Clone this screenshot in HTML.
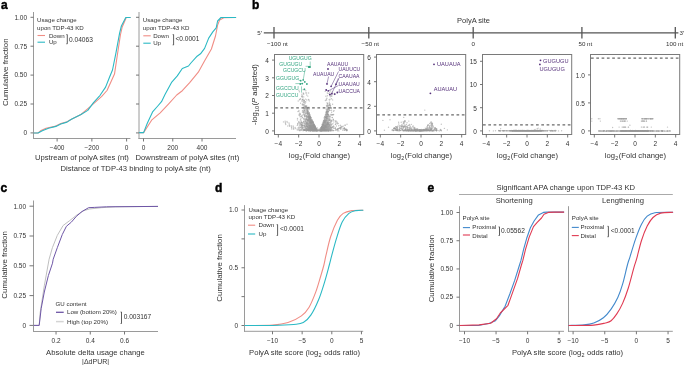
<!DOCTYPE html><html><head><meta charset="utf-8"><style>html,body{margin:0;padding:0;background:#fff;width:685px;height:365px;overflow:hidden}svg{display:block;transform:translateZ(0)}text{font-family:"Liberation Sans",sans-serif}</style></head><body>
<svg width="685" height="365" viewBox="0 0 685 365">
<text x="1.00" y="9.00" font-size="12" text-anchor="start" fill="#000" font-weight="bold" stroke="#000" stroke-width="0.45">a</text>
<text x="252.00" y="9.00" font-size="12" text-anchor="start" fill="#000" font-weight="bold" stroke="#000" stroke-width="0.45">b</text>
<text x="0.50" y="191.50" font-size="12" text-anchor="start" fill="#000" font-weight="bold" stroke="#000" stroke-width="0.45">c</text>
<text x="215.00" y="191.80" font-size="12" text-anchor="start" fill="#000" font-weight="bold" stroke="#000" stroke-width="0.45">d</text>
<text x="427.50" y="191.80" font-size="12" text-anchor="start" fill="#000" font-weight="bold" stroke="#000" stroke-width="0.45">e</text>
<line x1="33.50" y1="12.00" x2="33.50" y2="139.00" stroke="#9a9a9a" stroke-width="1" />
<line x1="30.50" y1="17.30" x2="33.50" y2="17.30" stroke="#666" stroke-width="0.9" />
<text x="27.10" y="19.60" font-size="6.5" text-anchor="end" fill="#333" font-weight="normal" >1.00</text>
<line x1="30.50" y1="46.20" x2="33.50" y2="46.20" stroke="#666" stroke-width="0.9" />
<text x="27.10" y="48.50" font-size="6.5" text-anchor="end" fill="#333" font-weight="normal" >0.75</text>
<line x1="30.50" y1="75.10" x2="33.50" y2="75.10" stroke="#666" stroke-width="0.9" />
<text x="27.10" y="77.40" font-size="6.5" text-anchor="end" fill="#333" font-weight="normal" >0.50</text>
<line x1="30.50" y1="104.00" x2="33.50" y2="104.00" stroke="#666" stroke-width="0.9" />
<text x="27.10" y="106.30" font-size="6.5" text-anchor="end" fill="#333" font-weight="normal" >0.25</text>
<line x1="30.50" y1="132.90" x2="33.50" y2="132.90" stroke="#666" stroke-width="0.9" />
<text x="27.10" y="135.20" font-size="6.5" text-anchor="end" fill="#333" font-weight="normal" >0</text>
<line x1="33.00" y1="138.50" x2="130.40" y2="138.50" stroke="#9a9a9a" stroke-width="1" />
<line x1="57.12" y1="138.50" x2="57.12" y2="141.50" stroke="#666" stroke-width="0.9" />
<text x="57.12" y="149.50" font-size="6.5" text-anchor="middle" fill="#333" font-weight="normal" >−400</text>
<line x1="91.86" y1="138.50" x2="91.86" y2="141.50" stroke="#666" stroke-width="0.9" />
<text x="91.86" y="149.50" font-size="6.5" text-anchor="middle" fill="#333" font-weight="normal" >−200</text>
<line x1="126.60" y1="138.50" x2="126.60" y2="141.50" stroke="#666" stroke-width="0.9" />
<text x="126.60" y="149.50" font-size="6.5" text-anchor="middle" fill="#333" font-weight="normal" >0</text>
<polyline points="33.30,133.00 38.00,133.00 40.50,130.80 46.00,128.30 54.70,126.40 60.80,123.60 67.00,121.80 71.40,119.30 81.00,114.50 90.50,106.30 101.50,96.70 107.00,90.50 111.10,81.60 114.50,74.10 117.20,56.00 120.40,35.00 122.20,27.00 126.30,17.50 130.60,17.50" fill="none" stroke="#f08d85" stroke-width="1.1" stroke-linejoin="round" />
<polyline points="33.30,133.00 38.00,133.00 42.30,130.80 48.50,128.30 55.90,126.40 60.80,124.00 67.00,122.10 71.40,119.30 81.00,114.50 87.80,110.40 93.30,102.90 100.10,95.30 105.60,87.10 109.70,76.80 112.50,70.00 116.00,52.70 119.60,33.10 121.40,26.00 125.80,17.50 130.60,17.50" fill="none" stroke="#2bb9c4" stroke-width="1.1" stroke-linejoin="round" />
<text x="37.10" y="22.30" font-size="6.15" text-anchor="start" fill="#333" font-weight="normal" >Usage change</text>
<text x="37.10" y="29.50" font-size="6.15" text-anchor="start" fill="#333" font-weight="normal" >upon TDP-43 KD</text>
<line x1="37.50" y1="35.50" x2="45.00" y2="35.50" stroke="#f08d85" stroke-width="1.1" />
<text x="48.90" y="37.60" font-size="6.15" text-anchor="start" fill="#333" font-weight="normal" >Down</text>
<line x1="37.50" y1="42.20" x2="45.00" y2="42.20" stroke="#2bb9c4" stroke-width="1.1" />
<text x="48.90" y="44.40" font-size="6.15" text-anchor="start" fill="#333" font-weight="normal" >Up</text>
<path d="M66.4,34.6 H67.3 V43.8 H66.4" fill="none" stroke="#333" stroke-width="0.8"/>
<text x="69.00" y="41.60" font-size="6.6" text-anchor="start" fill="#333" font-weight="normal" >0.04063</text>
<line x1="139.00" y1="12.00" x2="139.00" y2="139.00" stroke="#9a9a9a" stroke-width="1" />
<line x1="136.00" y1="17.30" x2="139.00" y2="17.30" stroke="#666" stroke-width="0.9" />
<line x1="136.00" y1="46.20" x2="139.00" y2="46.20" stroke="#666" stroke-width="0.9" />
<line x1="136.00" y1="75.10" x2="139.00" y2="75.10" stroke="#666" stroke-width="0.9" />
<line x1="136.00" y1="104.00" x2="139.00" y2="104.00" stroke="#666" stroke-width="0.9" />
<line x1="136.00" y1="132.90" x2="139.00" y2="132.90" stroke="#666" stroke-width="0.9" />
<line x1="138.50" y1="138.50" x2="236.00" y2="138.50" stroke="#9a9a9a" stroke-width="1" />
<line x1="143.50" y1="138.50" x2="143.50" y2="141.50" stroke="#666" stroke-width="0.9" />
<text x="143.50" y="149.50" font-size="6.5" text-anchor="middle" fill="#333" font-weight="normal" >0</text>
<line x1="172.76" y1="138.50" x2="172.76" y2="141.50" stroke="#666" stroke-width="0.9" />
<text x="172.76" y="149.50" font-size="6.5" text-anchor="middle" fill="#333" font-weight="normal" >200</text>
<line x1="202.02" y1="138.50" x2="202.02" y2="141.50" stroke="#666" stroke-width="0.9" />
<text x="202.02" y="149.50" font-size="6.5" text-anchor="middle" fill="#333" font-weight="normal" >400</text>
<polyline points="139.10,132.60 143.60,132.60 151.60,120.20 160.20,112.80 168.90,103.60 176.70,95.00 182.30,90.70 189.70,82.70 198.30,72.20 204.50,61.10 211.40,49.00 215.50,36.00 217.60,25.10 219.70,19.90 223.80,17.80 236.10,17.50" fill="none" stroke="#f08d85" stroke-width="1.1" stroke-linejoin="round" />
<polyline points="139.10,132.60 143.60,132.60 147.30,123.30 152.80,111.60 157.80,106.00 161.50,101.70 165.00,94.40 171.80,82.10 177.30,75.90 182.30,68.50 188.50,66.00 190.90,63.00 197.10,56.20 200.50,53.80 204.60,48.40 208.70,38.10 212.80,31.90 216.20,27.80 217.60,21.00 221.00,17.50 236.10,17.50" fill="none" stroke="#2bb9c4" stroke-width="1.1" stroke-linejoin="round" />
<text x="142.80" y="22.30" font-size="6.15" text-anchor="start" fill="#333" font-weight="normal" >Usage change</text>
<text x="142.80" y="29.50" font-size="6.15" text-anchor="start" fill="#333" font-weight="normal" >upon TDP-43 KD</text>
<line x1="143.30" y1="35.80" x2="150.70" y2="35.80" stroke="#f08d85" stroke-width="1.1" />
<text x="153.20" y="37.80" font-size="6.15" text-anchor="start" fill="#333" font-weight="normal" >Down</text>
<line x1="143.30" y1="43.20" x2="150.70" y2="43.20" stroke="#2bb9c4" stroke-width="1.1" />
<text x="153.20" y="45.40" font-size="6.15" text-anchor="start" fill="#333" font-weight="normal" >Up</text>
<path d="M172.7,34.6 H173.6 V44.9 H172.7" fill="none" stroke="#333" stroke-width="0.8"/>
<text x="175.40" y="41.40" font-size="6.6" text-anchor="start" fill="#333" font-weight="normal" >&lt;0.0001</text>
<text x="35.00" y="160.20" font-size="7.65" text-anchor="start" fill="#333" font-weight="normal" >Upstream of polyA sites (nt)</text>
<text x="135.60" y="160.20" font-size="7.65" text-anchor="start" fill="#333" font-weight="normal" >Downstream of polyA sites (nt)</text>
<text x="60.50" y="170.80" font-size="7.65" text-anchor="start" fill="#333" font-weight="normal" >Distance of TDP-43 binding to polyA site (nt)</text>
<text x="0.00" y="0.00" font-size="7.9" text-anchor="middle" fill="#333" font-weight="normal" transform="translate(8.0,72.2) rotate(-90)">Cumulative fraction</text>
<line x1="263.80" y1="32.90" x2="678.40" y2="32.90" stroke="#555" stroke-width="1.4" />
<line x1="274.00" y1="27.10" x2="274.00" y2="38.60" stroke="#555" stroke-width="1.3" />
<line x1="368.80" y1="27.10" x2="368.80" y2="38.60" stroke="#555" stroke-width="1.3" />
<line x1="473.20" y1="27.10" x2="473.20" y2="38.60" stroke="#555" stroke-width="1.3" />
<line x1="581.90" y1="27.10" x2="581.90" y2="38.60" stroke="#555" stroke-width="1.3" />
<line x1="675.30" y1="27.10" x2="675.30" y2="38.60" stroke="#555" stroke-width="1.3" />
<text x="257.30" y="34.60" font-size="6.2" text-anchor="start" fill="#333" font-weight="normal" >5′</text>
<text x="679.60" y="34.60" font-size="6.2" text-anchor="start" fill="#333" font-weight="normal" >3′</text>
<text x="267.00" y="46.20" font-size="6.2" text-anchor="start" fill="#333" font-weight="normal" >−100 nt</text>
<text x="361.60" y="46.20" font-size="6.2" text-anchor="start" fill="#333" font-weight="normal" >−50 nt</text>
<text x="473.20" y="46.20" font-size="6.2" text-anchor="middle" fill="#333" font-weight="normal" >0</text>
<text x="578.50" y="46.20" font-size="6.2" text-anchor="start" fill="#333" font-weight="normal" >50 nt</text>
<text x="666.00" y="46.20" font-size="6.2" text-anchor="start" fill="#333" font-weight="normal" >100 nt</text>
<text x="457.10" y="23.00" font-size="7.5" text-anchor="start" fill="#333" font-weight="normal" >PolyA site</text>
<rect x="274.50" y="54.5" width="89.2" height="80.00" fill="none" stroke="#7a7a7a" stroke-width="1"/>
<line x1="278.32" y1="134.50" x2="278.32" y2="137.50" stroke="#666" stroke-width="0.9" />
<text x="278.32" y="145.80" font-size="6.5" text-anchor="middle" fill="#333" font-weight="normal" >−4</text>
<line x1="298.66" y1="134.50" x2="298.66" y2="137.50" stroke="#666" stroke-width="0.9" />
<text x="298.66" y="145.80" font-size="6.5" text-anchor="middle" fill="#333" font-weight="normal" >−2</text>
<line x1="319.00" y1="134.50" x2="319.00" y2="137.50" stroke="#666" stroke-width="0.9" />
<text x="319.00" y="145.80" font-size="6.5" text-anchor="middle" fill="#333" font-weight="normal" >0</text>
<line x1="339.34" y1="134.50" x2="339.34" y2="137.50" stroke="#666" stroke-width="0.9" />
<text x="339.34" y="145.80" font-size="6.5" text-anchor="middle" fill="#333" font-weight="normal" >2</text>
<line x1="359.68" y1="134.50" x2="359.68" y2="137.50" stroke="#666" stroke-width="0.9" />
<text x="359.68" y="145.80" font-size="6.5" text-anchor="middle" fill="#333" font-weight="normal" >4</text>
<line x1="272.00" y1="60.10" x2="274.50" y2="60.10" stroke="#666" stroke-width="0.9" />
<text x="268.90" y="63.00" font-size="6.5" text-anchor="end" fill="#333" font-weight="normal" >4</text>
<line x1="272.00" y1="77.80" x2="274.50" y2="77.80" stroke="#666" stroke-width="0.9" />
<text x="268.90" y="80.70" font-size="6.5" text-anchor="end" fill="#333" font-weight="normal" >3</text>
<line x1="272.00" y1="95.50" x2="274.50" y2="95.50" stroke="#666" stroke-width="0.9" />
<text x="268.90" y="98.40" font-size="6.5" text-anchor="end" fill="#333" font-weight="normal" >2</text>
<line x1="272.00" y1="113.20" x2="274.50" y2="113.20" stroke="#666" stroke-width="0.9" />
<text x="268.90" y="116.10" font-size="6.5" text-anchor="end" fill="#333" font-weight="normal" >1</text>
<line x1="272.00" y1="130.90" x2="274.50" y2="130.90" stroke="#666" stroke-width="0.9" />
<text x="268.90" y="133.80" font-size="6.5" text-anchor="end" fill="#333" font-weight="normal" >0</text>
<path d="M310.7,127.6h0.01M313.8,126.3h0.01M313.0,129.6h0.01M309.0,121.4h0.01M309.1,120.0h0.01M307.4,113.6h0.01M303.7,122.2h0.01M317.0,129.7h0.01M304.4,127.2h0.01M302.1,127.1h0.01M313.2,126.8h0.01M316.3,130.0h0.01M312.4,125.4h0.01M299.9,130.7h0.01M309.7,128.8h0.01M315.6,128.2h0.01M307.0,129.0h0.01M310.4,125.5h0.01M307.4,129.5h0.01M301.4,122.2h0.01M306.5,126.4h0.01M314.0,130.7h0.01M307.0,118.1h0.01M305.9,125.0h0.01M306.3,107.0h0.01M311.0,120.4h0.01M309.8,126.2h0.01M299.6,124.9h0.01M307.5,110.7h0.01M304.2,107.7h0.01M312.4,129.7h0.01M316.1,129.3h0.01M304.1,126.2h0.01M312.7,127.3h0.01M314.5,128.6h0.01M309.8,127.2h0.01M316.3,130.7h0.01M315.5,129.6h0.01M308.0,115.9h0.01M305.2,115.9h0.01M317.1,130.3h0.01M312.1,121.3h0.01M311.8,128.3h0.01M304.5,108.0h0.01M311.5,124.7h0.01M310.1,125.3h0.01M309.2,120.5h0.01M308.4,115.9h0.01M304.8,110.5h0.01M311.3,129.8h0.01M313.3,129.4h0.01M317.0,130.1h0.01M313.0,128.2h0.01M309.7,115.2h0.01M307.2,114.8h0.01M304.9,124.2h0.01M309.0,130.3h0.01M314.3,125.5h0.01M307.8,109.3h0.01M314.1,127.8h0.01M305.2,106.2h0.01M306.8,108.6h0.01M307.0,128.2h0.01M312.1,127.0h0.01M307.9,109.9h0.01M317.5,130.9h0.01M301.8,126.2h0.01M308.9,118.2h0.01M313.8,128.3h0.01M306.0,121.8h0.01M311.4,123.7h0.01M309.4,115.6h0.01M313.7,128.4h0.01M312.9,122.1h0.01M307.4,126.7h0.01M305.3,127.2h0.01M307.3,113.1h0.01M302.3,128.1h0.01M311.8,130.4h0.01M315.5,129.2h0.01M316.0,130.6h0.01M307.1,126.1h0.01M309.8,126.2h0.01M312.4,127.0h0.01M309.9,118.0h0.01M316.0,129.0h0.01M308.2,129.9h0.01M310.0,117.6h0.01M306.5,122.4h0.01M315.8,129.7h0.01M310.7,122.8h0.01M312.8,130.8h0.01M315.1,126.6h0.01M309.3,116.9h0.01M308.9,119.6h0.01M305.3,124.2h0.01M304.8,119.6h0.01M310.1,125.6h0.01M314.0,129.6h0.01M312.3,130.3h0.01M305.0,129.9h0.01M314.8,127.7h0.01M311.8,130.6h0.01M314.7,130.9h0.01M311.5,128.4h0.01M310.2,122.7h0.01M312.2,126.9h0.01M312.9,121.9h0.01M311.0,120.8h0.01M314.4,130.0h0.01M309.6,126.8h0.01M304.8,111.1h0.01M309.0,122.4h0.01M306.9,122.8h0.01M313.9,129.4h0.01M311.4,126.5h0.01M311.9,130.8h0.01M314.6,126.8h0.01M308.9,116.7h0.01M315.0,126.3h0.01M307.2,108.9h0.01M313.1,122.0h0.01M312.1,123.1h0.01M313.7,124.2h0.01M314.0,130.8h0.01M310.1,130.7h0.01M312.0,127.5h0.01M306.7,116.3h0.01M313.0,122.5h0.01M310.4,122.0h0.01M309.5,118.9h0.01M311.3,127.9h0.01M307.7,110.0h0.01M316.3,129.5h0.01M311.6,119.9h0.01M306.7,128.5h0.01M309.6,125.4h0.01M312.2,126.8h0.01M302.6,99.4h0.01M317.5,130.9h0.01M308.1,115.1h0.01M324.9,123.5h0.01M330.5,124.0h0.01M324.4,126.8h0.01M337.5,130.7h0.01M327.3,104.5h0.01M324.7,130.4h0.01M338.0,129.5h0.01M331.0,121.1h0.01M321.1,127.8h0.01M327.1,110.0h0.01M323.9,127.6h0.01M323.8,126.7h0.01M326.4,112.9h0.01M322.4,128.2h0.01M324.2,124.9h0.01M325.3,130.2h0.01M321.7,126.7h0.01M324.9,128.4h0.01M326.9,120.9h0.01M323.1,124.9h0.01M328.2,129.2h0.01M322.4,125.4h0.01M328.2,108.8h0.01M330.0,99.2h0.01M323.2,127.3h0.01M325.8,113.7h0.01M325.7,126.4h0.01M322.4,129.6h0.01M325.0,122.5h0.01M326.9,123.9h0.01M324.2,130.3h0.01M326.1,127.6h0.01M325.2,121.1h0.01M327.5,114.5h0.01M328.5,115.8h0.01M326.9,116.4h0.01M329.7,125.1h0.01M327.9,126.8h0.01M331.3,127.9h0.01M327.5,128.2h0.01M321.1,128.0h0.01M328.7,124.9h0.01M323.2,123.3h0.01M325.5,123.9h0.01M327.4,109.6h0.01M324.0,120.8h0.01M326.9,124.3h0.01M328.9,128.7h0.01M326.1,117.9h0.01M323.9,121.1h0.01M321.5,128.4h0.01M325.2,130.0h0.01M326.5,111.8h0.01M323.3,121.3h0.01M321.8,129.5h0.01M323.5,126.4h0.01M321.0,130.0h0.01M331.0,107.6h0.01M329.0,109.9h0.01M323.6,130.4h0.01M327.5,109.0h0.01M330.5,123.6h0.01M325.2,126.2h0.01M329.2,99.7h0.01M322.9,122.5h0.01M322.6,129.4h0.01M327.8,128.7h0.01M328.9,124.0h0.01M328.4,116.3h0.01M326.8,112.2h0.01M333.3,114.9h0.01M324.1,122.6h0.01M328.3,126.6h0.01M322.1,124.9h0.01M326.0,126.3h0.01M330.5,105.3h0.01M331.5,121.1h0.01M324.1,121.8h0.01M327.9,129.9h0.01M324.9,129.3h0.01M324.9,127.6h0.01M330.2,116.0h0.01M326.3,125.9h0.01M323.5,122.0h0.01M325.7,114.5h0.01M329.5,120.2h0.01M321.1,128.7h0.01M324.2,128.0h0.01M322.1,127.4h0.01M324.1,121.2h0.01M326.7,117.7h0.01M328.6,122.6h0.01M333.6,125.9h0.01M330.1,119.3h0.01M323.9,121.0h0.01M326.8,125.8h0.01M327.1,124.4h0.01M331.5,98.8h0.01M322.6,126.8h0.01M323.4,128.8h0.01M325.1,119.8h0.01M324.5,129.0h0.01M328.3,111.6h0.01M320.6,130.6h0.01M327.8,114.1h0.01M326.1,125.4h0.01M327.4,125.2h0.01M326.4,120.8h0.01M329.1,130.9h0.01M312.0,130.1h0.01M320.7,130.9h0.01M320.2,130.7h0.01M317.7,130.6h0.01M326.4,130.7h0.01M331.1,130.5h0.01M312.4,130.8h0.01M305.3,129.5h0.01M311.1,129.6h0.01M321.7,130.7h0.01M315.9,130.3h0.01M303.9,130.3h0.01M318.8,129.4h0.01M306.9,130.3h0.01M314.7,130.0h0.01M316.7,130.0h0.01M311.9,130.6h0.01M315.1,130.7h0.01M321.9,130.7h0.01M321.5,130.8h0.01M311.8,130.3h0.01M321.0,130.7h0.01M331.1,129.7h0.01M318.1,130.4h0.01M331.1,110.4h0.01M330.2,94.7h0.01M331.2,107.9h0.01M329.6,100.0h0.01M327.3,92.9h0.01M326.5,105.8h0.01M331.6,110.1h0.01M333.5,111.2h0.01M326.9,106.8h0.01M326.9,98.2h0.01M344.3,127.9h0.01M346.8,130.0h0.01M338.2,123.5h0.01M341.1,126.2h0.01M340.2,128.0h0.01M341.3,126.5h0.01M340.3,125.3h0.01M332.4,117.6h0.01M345.5,129.3h0.01M345.8,129.7h0.01M301.2,130.2h0.01M300.5,124.9h0.01M301.0,116.2h0.01M301.1,127.3h0.01M298.6,121.6h0.01M300.5,114.4h0.01M299.9,124.8h0.01M287.0,121.4h0.01M287.2,122.6h0.01M293.7,129.3h0.01M287.8,126.0h0.01M345.4,125.1h0.01M338.3,128.6h0.01" stroke="#969696" stroke-opacity="0.55" stroke-width="1.4" stroke-linecap="round" fill="none"/>
<path d="M309.8,130.3h0.01M313.7,128.8h0.01M308.5,116.8h0.01M311.8,123.6h0.01M299.7,129.9h0.01M306.2,123.4h0.01M315.6,128.1h0.01M306.0,113.8h0.01M306.3,129.5h0.01M307.8,121.1h0.01M311.9,122.5h0.01M309.0,113.6h0.01M314.3,127.4h0.01M308.1,114.3h0.01M299.8,115.0h0.01M302.2,104.8h0.01M304.4,115.6h0.01M306.2,127.5h0.01M310.5,129.6h0.01M312.8,126.2h0.01M306.0,127.3h0.01M316.5,130.9h0.01M311.4,128.5h0.01M314.3,125.9h0.01M314.2,129.8h0.01M307.7,113.1h0.01M316.1,129.1h0.01M306.4,118.0h0.01M312.5,129.6h0.01M308.7,130.2h0.01M316.4,129.9h0.01M315.4,128.5h0.01M315.0,126.7h0.01M316.4,130.3h0.01M310.1,129.5h0.01M314.7,125.5h0.01M310.1,123.6h0.01M308.4,130.5h0.01M304.4,123.6h0.01M310.8,122.7h0.01M312.5,130.3h0.01M306.2,122.3h0.01M306.1,121.5h0.01M310.3,116.6h0.01M310.2,116.6h0.01M315.4,129.6h0.01M312.7,127.0h0.01M302.2,128.5h0.01M310.2,120.3h0.01M315.1,128.0h0.01M302.8,125.2h0.01M309.8,123.9h0.01M313.9,125.1h0.01M316.8,130.6h0.01M316.4,129.9h0.01M313.8,128.7h0.01M314.2,126.8h0.01M304.0,104.0h0.01M314.2,127.5h0.01M312.4,128.8h0.01M311.6,128.9h0.01M306.0,108.0h0.01M304.3,129.8h0.01M313.7,127.1h0.01M303.4,111.9h0.01M301.8,122.5h0.01M316.2,129.2h0.01M310.5,119.3h0.01M313.3,125.2h0.01M308.0,128.0h0.01M298.9,90.3h0.01M315.2,128.0h0.01M301.9,130.0h0.01M315.0,127.6h0.01M314.5,130.1h0.01M309.6,127.1h0.01M317.0,130.8h0.01M315.3,129.9h0.01M307.3,111.4h0.01M308.9,124.8h0.01M311.4,123.3h0.01M313.5,125.3h0.01M311.2,125.0h0.01M309.4,114.7h0.01M314.7,127.3h0.01M308.7,127.7h0.01M314.0,127.2h0.01M297.6,123.7h0.01M312.4,121.8h0.01M308.4,130.7h0.01M307.2,108.0h0.01M309.6,127.3h0.01M310.0,118.3h0.01M311.3,127.9h0.01M315.9,130.0h0.01M310.5,124.7h0.01M312.4,127.6h0.01M305.0,114.7h0.01M307.6,108.9h0.01M308.7,116.7h0.01M309.2,117.0h0.01M315.7,128.4h0.01M309.1,118.6h0.01M300.0,99.2h0.01M314.8,128.9h0.01M310.7,126.7h0.01M312.1,125.8h0.01M311.5,126.1h0.01M313.9,129.5h0.01M314.8,126.9h0.01M310.4,117.9h0.01M309.4,119.4h0.01M312.1,122.7h0.01M305.5,108.8h0.01M301.5,124.8h0.01M311.7,121.3h0.01M310.1,120.9h0.01M309.3,118.4h0.01M309.8,128.0h0.01M312.0,120.3h0.01M309.5,116.3h0.01M314.1,129.6h0.01M304.1,112.2h0.01M312.4,129.7h0.01M308.9,124.0h0.01M305.0,108.6h0.01M310.6,125.5h0.01M312.1,128.3h0.01M311.0,120.2h0.01M302.4,123.0h0.01M315.3,130.6h0.01M312.7,126.2h0.01M315.1,126.8h0.01M312.7,121.3h0.01M310.3,118.5h0.01M315.6,130.8h0.01M312.0,123.8h0.01M301.1,118.1h0.01M308.8,127.8h0.01M308.2,123.6h0.01M304.0,110.5h0.01M326.3,129.1h0.01M328.4,125.0h0.01M320.0,130.5h0.01M327.0,114.9h0.01M322.0,129.1h0.01M323.5,129.9h0.01M324.3,128.9h0.01M333.6,130.4h0.01M324.5,125.7h0.01M332.5,114.8h0.01M327.5,123.0h0.01M326.9,116.3h0.01M324.9,125.7h0.01M324.3,120.6h0.01M328.4,111.5h0.01M325.0,128.4h0.01M325.5,117.6h0.01M330.7,127.3h0.01M331.2,127.8h0.01M327.6,103.6h0.01M323.1,124.1h0.01M324.1,126.8h0.01M326.9,116.3h0.01M332.1,117.5h0.01M321.9,126.4h0.01M323.6,122.7h0.01M322.3,128.0h0.01M323.0,128.1h0.01M329.6,126.0h0.01M325.1,115.1h0.01M324.4,130.4h0.01M328.3,123.3h0.01M325.8,114.6h0.01M324.9,126.1h0.01M320.4,129.3h0.01M322.4,126.5h0.01M322.2,127.0h0.01M326.7,114.0h0.01M323.3,125.2h0.01M320.9,129.2h0.01M321.4,128.0h0.01M321.6,126.7h0.01M321.4,130.8h0.01M326.1,127.0h0.01M327.5,112.6h0.01M327.8,114.3h0.01M325.7,127.0h0.01M322.9,127.6h0.01M326.8,120.7h0.01M332.9,123.8h0.01M327.4,122.4h0.01M323.8,125.4h0.01M331.8,115.2h0.01M331.8,127.4h0.01M325.7,127.1h0.01M324.4,130.9h0.01M327.6,111.3h0.01M327.9,121.5h0.01M327.0,130.5h0.01M325.1,129.1h0.01M327.3,113.7h0.01M325.9,116.7h0.01M324.8,125.9h0.01M322.8,125.6h0.01M324.6,129.7h0.01M331.3,120.1h0.01M324.2,123.0h0.01M324.6,129.5h0.01M328.9,126.5h0.01M325.4,126.2h0.01M324.6,123.2h0.01M327.9,113.7h0.01M322.7,126.9h0.01M328.0,124.5h0.01M327.5,120.9h0.01M324.0,129.7h0.01M327.1,123.2h0.01M323.7,127.2h0.01M324.5,128.6h0.01M324.3,121.6h0.01M328.1,114.5h0.01M328.6,123.4h0.01M323.7,127.4h0.01M326.0,125.4h0.01M329.3,122.9h0.01M321.6,127.5h0.01M325.6,129.7h0.01M329.7,124.5h0.01M328.4,114.8h0.01M326.2,129.1h0.01M323.9,129.7h0.01M325.8,127.6h0.01M323.2,124.3h0.01M326.7,126.5h0.01M330.6,128.0h0.01M329.0,127.3h0.01M333.0,127.3h0.01M321.2,127.5h0.01M323.6,124.3h0.01M330.3,122.7h0.01M325.1,127.7h0.01M326.4,118.8h0.01M327.8,130.1h0.01M331.0,121.6h0.01M324.8,129.7h0.01M323.1,129.0h0.01M325.0,127.3h0.01M324.3,126.6h0.01M313.5,129.4h0.01M311.7,129.8h0.01M323.0,129.9h0.01M316.2,128.6h0.01M307.6,130.2h0.01M307.1,130.4h0.01M316.3,129.8h0.01M308.4,130.8h0.01M308.5,129.3h0.01M325.8,130.1h0.01M324.3,130.5h0.01M316.2,130.0h0.01M324.6,129.7h0.01M323.0,130.4h0.01M302.9,129.8h0.01M327.4,130.6h0.01M325.6,130.4h0.01M311.0,129.0h0.01M327.3,130.6h0.01M326.6,130.2h0.01M322.3,128.6h0.01M328.7,130.7h0.01M305.4,129.6h0.01M311.0,130.4h0.01M310.4,130.6h0.01M304.4,100.1h0.01M306.6,99.9h0.01M303.1,89.7h0.01M302.7,99.7h0.01M305.8,90.7h0.01M302.0,101.3h0.01M303.7,96.9h0.01M309.4,100.9h0.01M304.4,88.9h0.01M308.6,93.0h0.01M345.7,129.2h0.01M346.5,130.7h0.01M341.7,127.2h0.01M335.4,124.4h0.01M335.3,128.6h0.01M331.4,120.6h0.01M336.4,126.0h0.01M337.5,123.8h0.01M330.6,120.9h0.01M335.8,120.7h0.01M298.6,128.0h0.01M301.3,124.7h0.01M298.3,127.5h0.01M298.5,129.8h0.01M297.3,125.4h0.01M298.5,127.7h0.01M299.2,130.4h0.01M297.3,130.0h0.01M285.1,121.1h0.01M291.6,127.8h0.01M285.7,124.5h0.01M336.8,129.5h0.01M340.4,127.5h0.01" stroke="#969696" stroke-opacity="0.55" stroke-width="1.4" stroke-linecap="round" fill="none"/>
<path d="M313.0,124.5h0.01M307.0,122.7h0.01M308.9,129.2h0.01M311.8,125.9h0.01M315.0,126.4h0.01M304.0,123.7h0.01M314.8,126.8h0.01M309.7,130.2h0.01M316.3,129.3h0.01M308.2,124.9h0.01M313.5,130.4h0.01M311.2,123.0h0.01M314.5,128.3h0.01M312.3,121.0h0.01M308.2,117.3h0.01M299.2,126.0h0.01M308.9,125.5h0.01M306.9,117.5h0.01M304.7,116.3h0.01M308.5,113.8h0.01M304.1,125.8h0.01M308.9,117.5h0.01M315.1,128.2h0.01M301.3,124.6h0.01M311.2,126.0h0.01M304.2,102.4h0.01M315.7,127.7h0.01M303.4,101.2h0.01M304.0,110.0h0.01M303.1,114.8h0.01M312.9,129.4h0.01M317.0,130.8h0.01M308.4,125.0h0.01M312.0,119.7h0.01M313.8,126.0h0.01M312.5,125.1h0.01M314.3,124.6h0.01M306.1,115.9h0.01M307.0,112.3h0.01M312.4,121.4h0.01M315.7,128.3h0.01M314.5,130.2h0.01M309.3,128.0h0.01M303.4,102.2h0.01M307.9,125.0h0.01M311.1,127.4h0.01M307.5,126.7h0.01M312.2,128.3h0.01M316.9,130.5h0.01M308.5,119.7h0.01M299.1,128.8h0.01M309.3,112.7h0.01M311.0,122.6h0.01M308.1,120.6h0.01M307.4,129.5h0.01M306.6,109.9h0.01M315.8,128.8h0.01M312.2,120.8h0.01M313.6,126.4h0.01M308.7,119.0h0.01M304.2,100.5h0.01M305.3,119.5h0.01M305.1,103.2h0.01M305.6,112.0h0.01M313.6,127.5h0.01M305.2,107.0h0.01M310.5,117.4h0.01M314.9,128.5h0.01M309.1,120.6h0.01M307.8,123.9h0.01M313.3,125.0h0.01M310.8,129.8h0.01M311.0,123.4h0.01M311.1,121.5h0.01M314.7,129.4h0.01M316.1,129.1h0.01M306.5,124.2h0.01M309.7,125.3h0.01M312.1,122.8h0.01M312.3,126.9h0.01M310.9,124.3h0.01M315.5,128.7h0.01M315.9,130.6h0.01M311.0,119.9h0.01M306.6,119.2h0.01M316.1,130.6h0.01M305.1,113.7h0.01M315.0,127.2h0.01M314.3,127.8h0.01M316.1,130.9h0.01M314.7,128.6h0.01M301.9,122.3h0.01M303.1,130.8h0.01M308.9,130.5h0.01M311.0,128.7h0.01M306.2,128.3h0.01M308.2,113.3h0.01M313.9,126.1h0.01M314.8,127.4h0.01M309.6,116.7h0.01M310.0,122.5h0.01M314.9,128.1h0.01M313.6,127.4h0.01M310.4,130.9h0.01M310.3,120.9h0.01M303.0,112.5h0.01M314.0,124.6h0.01M309.6,118.5h0.01M312.9,128.5h0.01M302.2,96.6h0.01M305.7,121.1h0.01M313.9,126.4h0.01M307.4,130.0h0.01M310.6,129.2h0.01M310.1,130.0h0.01M315.1,126.8h0.01M315.3,127.3h0.01M307.8,117.1h0.01M306.8,124.3h0.01M316.0,128.2h0.01M308.3,111.2h0.01M315.5,128.7h0.01M309.8,118.0h0.01M308.7,125.2h0.01M310.4,121.8h0.01M308.6,127.6h0.01M313.9,124.7h0.01M306.4,125.0h0.01M308.2,112.9h0.01M307.9,122.9h0.01M306.0,118.5h0.01M311.7,122.4h0.01M299.9,123.4h0.01M314.5,129.8h0.01M307.6,120.5h0.01M310.8,130.8h0.01M313.6,126.1h0.01M313.5,123.9h0.01M310.8,126.2h0.01M310.0,116.8h0.01M309.1,127.4h0.01M320.8,128.6h0.01M324.6,125.7h0.01M327.3,127.2h0.01M325.5,125.6h0.01M322.0,129.3h0.01M327.2,105.4h0.01M319.8,130.6h0.01M320.6,129.7h0.01M320.5,129.4h0.01M327.4,113.4h0.01M320.5,129.7h0.01M324.2,127.7h0.01M321.0,128.2h0.01M321.9,128.1h0.01M323.3,128.9h0.01M327.4,129.1h0.01M327.1,127.6h0.01M325.7,129.5h0.01M328.7,121.0h0.01M321.6,128.9h0.01M322.7,125.0h0.01M329.9,129.7h0.01M331.6,125.0h0.01M328.6,115.9h0.01M324.7,125.3h0.01M322.7,128.4h0.01M327.4,122.6h0.01M322.4,126.7h0.01M326.5,124.6h0.01M326.9,128.7h0.01M329.6,127.0h0.01M326.5,115.8h0.01M320.1,130.9h0.01M322.4,126.0h0.01M325.4,128.0h0.01M326.5,111.7h0.01M325.4,127.4h0.01M329.6,104.3h0.01M327.1,130.0h0.01M325.8,129.3h0.01M329.1,116.2h0.01M325.6,129.9h0.01M326.6,119.2h0.01M325.8,130.5h0.01M325.9,117.4h0.01M322.8,125.6h0.01M323.9,126.8h0.01M320.9,129.6h0.01M324.9,127.1h0.01M321.4,127.2h0.01M324.1,124.2h0.01M325.3,128.1h0.01M320.3,129.8h0.01M323.6,123.0h0.01M322.8,130.6h0.01M325.0,116.6h0.01M329.1,119.9h0.01M326.4,120.2h0.01M324.4,121.2h0.01M326.7,127.9h0.01M325.0,129.7h0.01M321.4,129.9h0.01M322.2,127.3h0.01M324.0,126.4h0.01M321.3,130.7h0.01M325.2,127.7h0.01M326.5,117.3h0.01M323.9,126.2h0.01M324.4,128.2h0.01M324.2,124.3h0.01M329.5,117.6h0.01M322.9,130.7h0.01M325.3,129.9h0.01M323.1,128.9h0.01M333.2,119.6h0.01M326.6,119.0h0.01M331.7,114.5h0.01M329.9,120.3h0.01M330.9,129.2h0.01M328.1,127.1h0.01M326.5,118.1h0.01M321.8,130.3h0.01M324.1,130.9h0.01M327.0,128.5h0.01M323.1,127.3h0.01M323.7,124.5h0.01M323.9,130.8h0.01M329.1,108.8h0.01M332.5,130.3h0.01M327.1,123.5h0.01M331.9,129.2h0.01M321.3,130.4h0.01M331.8,96.0h0.01M327.6,124.7h0.01M328.2,119.1h0.01M329.8,94.6h0.01M324.4,129.6h0.01M327.4,118.1h0.01M332.7,126.7h0.01M324.8,128.1h0.01M324.2,125.6h0.01M327.6,115.0h0.01M321.3,129.4h0.01M324.0,130.6h0.01M325.0,126.4h0.01M330.0,103.6h0.01M322.7,130.8h0.01M329.4,102.1h0.01M309.6,130.7h0.01M330.4,129.1h0.01M313.9,129.5h0.01M323.3,129.7h0.01M326.1,129.4h0.01M309.9,130.1h0.01M325.5,130.9h0.01M319.0,130.3h0.01M314.8,130.5h0.01M312.8,129.9h0.01M313.5,129.7h0.01M328.1,129.8h0.01M324.7,130.3h0.01M316.5,129.4h0.01M330.9,130.8h0.01M325.6,130.4h0.01M308.4,129.7h0.01M323.0,130.4h0.01M304.8,130.3h0.01M306.9,130.3h0.01M307.1,129.4h0.01M312.0,130.6h0.01M316.0,130.7h0.01M312.6,130.9h0.01M328.2,130.5h0.01M327.4,95.7h0.01M325.4,100.5h0.01M328.1,93.5h0.01M326.6,100.1h0.01M325.2,91.4h0.01M329.8,105.2h0.01M334.1,110.6h0.01M328.8,109.6h0.01M334.2,94.6h0.01M325.9,96.2h0.01M344.4,128.3h0.01M346.9,129.6h0.01M336.3,123.1h0.01M344.5,128.4h0.01M335.6,121.9h0.01M329.9,117.1h0.01M346.7,130.0h0.01M333.8,126.5h0.01M337.3,122.3h0.01M330.2,117.1h0.01M302.4,112.0h0.01M299.9,122.0h0.01M300.1,113.4h0.01M298.4,122.8h0.01M299.0,122.7h0.01M301.2,120.9h0.01M297.1,128.9h0.01M295.3,128.5h0.01M293.5,128.2h0.01M289.6,126.3h0.01M335.3,130.4h0.01M338.8,128.4h0.01M342.4,126.5h0.01" stroke="#969696" stroke-opacity="0.55" stroke-width="1.4" stroke-linecap="round" fill="none"/>
<path d="M313.1,125.0h0.01M312.9,126.7h0.01M311.4,127.0h0.01M304.3,120.9h0.01M311.4,125.3h0.01M305.7,106.8h0.01M313.8,125.7h0.01M308.0,113.0h0.01M310.6,125.4h0.01M311.0,130.4h0.01M315.1,129.4h0.01M312.0,127.3h0.01M314.4,130.7h0.01M310.8,129.4h0.01M307.2,128.8h0.01M303.4,105.1h0.01M307.9,130.2h0.01M314.3,126.6h0.01M314.6,127.3h0.01M312.5,128.5h0.01M308.9,126.4h0.01M307.5,120.2h0.01M307.6,124.0h0.01M311.0,120.9h0.01M315.4,130.3h0.01M301.1,126.7h0.01M313.0,124.2h0.01M314.6,130.6h0.01M313.1,130.1h0.01M310.3,125.9h0.01M314.7,127.8h0.01M308.8,129.2h0.01M299.9,127.4h0.01M313.5,130.2h0.01M298.2,101.0h0.01M310.6,130.9h0.01M305.4,120.4h0.01M308.0,119.9h0.01M307.7,128.7h0.01M311.2,117.6h0.01M308.9,119.7h0.01M309.2,119.6h0.01M314.2,125.7h0.01M315.0,128.9h0.01M310.1,128.7h0.01M306.5,130.9h0.01M315.5,127.2h0.01M315.2,127.0h0.01M306.9,119.3h0.01M312.5,122.0h0.01M304.2,125.9h0.01M309.2,126.5h0.01M312.9,128.3h0.01M310.1,123.5h0.01M306.6,107.3h0.01M312.8,129.8h0.01M315.5,127.9h0.01M313.5,125.2h0.01M308.6,117.6h0.01M301.3,125.2h0.01M315.9,130.4h0.01M313.7,126.9h0.01M307.0,116.6h0.01M310.1,117.0h0.01M300.5,122.9h0.01M314.1,125.5h0.01M303.3,118.6h0.01M313.5,124.2h0.01M313.8,126.4h0.01M309.3,129.1h0.01M303.9,122.1h0.01M300.5,123.6h0.01M312.7,127.1h0.01M311.6,129.0h0.01M310.2,128.1h0.01M313.6,130.9h0.01M306.4,130.1h0.01M301.2,129.1h0.01M309.1,118.1h0.01M309.8,120.2h0.01M311.6,126.4h0.01M305.0,125.8h0.01M310.7,119.9h0.01M302.2,97.6h0.01M305.2,128.2h0.01M306.0,108.0h0.01M307.8,113.1h0.01M310.0,129.3h0.01M317.0,129.6h0.01M313.4,127.2h0.01M311.4,122.4h0.01M308.3,119.9h0.01M312.2,129.6h0.01M307.0,120.4h0.01M310.9,119.4h0.01M303.9,128.9h0.01M306.5,111.1h0.01M308.2,127.8h0.01M316.5,130.5h0.01M308.9,114.1h0.01M308.4,128.1h0.01M310.2,127.7h0.01M309.1,128.9h0.01M310.9,117.6h0.01M313.3,122.5h0.01M310.7,130.7h0.01M304.7,122.3h0.01M313.4,125.7h0.01M310.1,129.4h0.01M306.0,126.2h0.01M314.8,125.7h0.01M303.8,113.3h0.01M308.4,120.5h0.01M306.9,126.8h0.01M309.7,120.4h0.01M301.9,96.3h0.01M308.8,119.6h0.01M309.5,124.0h0.01M307.6,127.3h0.01M309.9,125.5h0.01M308.4,116.1h0.01M311.2,129.5h0.01M309.9,121.1h0.01M314.4,129.6h0.01M310.4,126.4h0.01M313.9,125.4h0.01M311.1,126.1h0.01M310.3,117.8h0.01M315.5,127.9h0.01M307.9,123.4h0.01M311.1,127.1h0.01M313.2,123.9h0.01M308.7,125.5h0.01M309.4,114.0h0.01M309.1,130.2h0.01M307.7,130.2h0.01M309.0,117.6h0.01M303.9,100.6h0.01M309.7,121.3h0.01M309.8,116.0h0.01M308.4,117.6h0.01M331.0,126.0h0.01M322.4,129.2h0.01M327.4,118.6h0.01M325.1,118.9h0.01M323.0,124.4h0.01M328.8,122.7h0.01M328.2,112.3h0.01M333.8,121.9h0.01M325.5,121.9h0.01M324.9,130.1h0.01M324.8,120.9h0.01M326.6,127.9h0.01M324.9,127.3h0.01M324.2,117.8h0.01M321.7,129.3h0.01M328.1,117.6h0.01M330.5,125.5h0.01M325.2,130.9h0.01M326.5,130.4h0.01M323.1,128.6h0.01M326.4,114.7h0.01M326.5,129.6h0.01M329.7,119.0h0.01M327.9,105.7h0.01M327.7,103.1h0.01M325.8,124.7h0.01M328.9,106.0h0.01M324.2,130.2h0.01M325.0,127.9h0.01M323.1,128.2h0.01M323.5,130.0h0.01M328.1,120.2h0.01M328.7,125.4h0.01M325.8,127.0h0.01M327.4,124.0h0.01M322.4,124.3h0.01M327.8,107.4h0.01M323.1,123.1h0.01M327.8,117.2h0.01M326.6,127.4h0.01M324.9,129.2h0.01M328.3,130.0h0.01M329.0,127.4h0.01M328.9,105.3h0.01M329.9,105.3h0.01M324.5,129.4h0.01M325.1,117.0h0.01M323.2,128.4h0.01M327.1,106.9h0.01M328.4,129.0h0.01M325.4,130.2h0.01M322.5,128.9h0.01M324.1,121.8h0.01M327.0,111.5h0.01M328.0,129.3h0.01M324.5,130.6h0.01M325.6,126.9h0.01M328.2,126.1h0.01M325.8,124.6h0.01M328.4,122.1h0.01M325.6,117.4h0.01M325.8,129.1h0.01M321.4,130.8h0.01M326.4,130.8h0.01M331.5,128.1h0.01M330.5,127.8h0.01M331.0,107.8h0.01M320.1,130.6h0.01M327.0,126.5h0.01M323.1,130.2h0.01M325.2,123.4h0.01M329.0,126.2h0.01M331.7,124.6h0.01M323.1,125.2h0.01M332.1,120.7h0.01M322.7,127.2h0.01M327.8,114.6h0.01M322.7,130.5h0.01M325.4,124.0h0.01M330.2,124.7h0.01M324.8,117.3h0.01M327.2,113.0h0.01M322.0,130.7h0.01M328.1,105.8h0.01M330.7,114.5h0.01M322.2,127.6h0.01M325.8,126.2h0.01M331.7,123.9h0.01M322.0,128.3h0.01M326.7,129.2h0.01M325.0,122.8h0.01M323.4,123.1h0.01M325.4,120.6h0.01M326.0,122.4h0.01M321.7,128.3h0.01M329.8,130.1h0.01M329.7,110.6h0.01M326.2,112.3h0.01M328.2,123.0h0.01M322.4,124.2h0.01M324.7,121.8h0.01M331.1,128.1h0.01M323.3,127.6h0.01M321.7,126.4h0.01M328.2,129.6h0.01M326.9,128.4h0.01M328.9,124.6h0.01M314.4,130.2h0.01M326.7,130.4h0.01M327.0,130.9h0.01M322.0,130.7h0.01M309.0,130.7h0.01M326.3,130.5h0.01M325.6,130.3h0.01M322.1,130.3h0.01M323.2,130.7h0.01M313.3,129.5h0.01M329.1,130.0h0.01M328.4,130.7h0.01M317.3,130.4h0.01M304.9,130.4h0.01M314.6,130.4h0.01M311.6,130.1h0.01M308.5,130.3h0.01M304.2,130.2h0.01M315.7,129.6h0.01M329.0,130.5h0.01M305.6,130.5h0.01M303.9,130.3h0.01M325.5,130.4h0.01M322.1,129.8h0.01M329.2,129.7h0.01M309.2,109.0h0.01M303.2,92.9h0.01M302.5,95.9h0.01M308.8,99.5h0.01M305.8,101.9h0.01M305.7,92.9h0.01M309.0,107.9h0.01M306.7,95.0h0.01M303.7,94.1h0.01M305.6,99.1h0.01M335.6,129.2h0.01M340.0,128.0h0.01M333.8,120.4h0.01M343.7,128.4h0.01M329.3,122.3h0.01M340.5,129.1h0.01M332.5,127.1h0.01M347.3,130.6h0.01M331.0,122.3h0.01M335.8,124.0h0.01M300.8,119.1h0.01M297.5,118.4h0.01M302.6,117.1h0.01M301.5,123.5h0.01M302.5,110.5h0.01M302.5,125.2h0.01M300.0,116.7h0.01M295.1,127.4h0.01M293.3,127.0h0.01M291.4,126.7h0.01M285.5,123.4h0.01M337.3,129.3h0.01M340.9,127.4h0.01" stroke="#969696" stroke-opacity="0.55" stroke-width="1.4" stroke-linecap="round" fill="none"/>
<path d="M315.5,130.6h0.01M299.5,99.8h0.01M312.4,124.3h0.01M309.6,128.6h0.01M312.2,130.6h0.01M313.7,125.6h0.01M315.2,129.4h0.01M308.6,116.7h0.01M313.7,123.5h0.01M307.6,111.8h0.01M315.6,127.4h0.01M307.3,127.1h0.01M305.2,105.8h0.01M304.0,118.6h0.01M313.6,124.8h0.01M314.8,127.1h0.01M305.6,121.9h0.01M306.7,106.5h0.01M313.5,124.3h0.01M315.6,128.0h0.01M304.5,110.1h0.01M311.1,124.1h0.01M307.6,119.0h0.01M306.9,113.5h0.01M310.7,121.7h0.01M304.0,125.3h0.01M309.9,126.1h0.01M311.2,118.3h0.01M315.0,130.4h0.01M302.8,127.5h0.01M315.7,127.9h0.01M312.3,125.5h0.01M309.0,116.0h0.01M306.3,115.6h0.01M313.7,124.3h0.01M311.0,128.3h0.01M307.0,113.3h0.01M307.7,117.0h0.01M313.6,130.6h0.01M306.2,119.4h0.01M302.0,100.0h0.01M315.1,127.9h0.01M313.8,129.9h0.01M306.1,106.7h0.01M308.2,111.9h0.01M310.7,119.3h0.01M314.8,126.3h0.01M302.7,104.9h0.01M312.9,122.3h0.01M310.3,127.9h0.01M316.1,129.6h0.01M310.8,124.7h0.01M310.9,128.5h0.01M306.3,130.9h0.01M307.4,120.3h0.01M310.0,128.5h0.01M306.9,125.8h0.01M309.5,121.6h0.01M308.9,119.7h0.01M315.6,129.2h0.01M305.6,126.7h0.01M313.7,127.0h0.01M309.6,116.5h0.01M310.5,118.8h0.01M315.1,128.4h0.01M303.8,104.8h0.01M311.4,123.1h0.01M303.4,127.6h0.01M309.5,122.8h0.01M316.3,128.5h0.01M299.4,91.8h0.01M303.9,108.8h0.01M315.6,129.6h0.01M309.8,117.7h0.01M310.9,127.8h0.01M303.4,111.6h0.01M309.2,122.8h0.01M300.8,129.8h0.01M306.5,128.8h0.01M304.8,112.0h0.01M306.8,123.6h0.01M313.8,129.3h0.01M310.1,118.4h0.01M302.5,125.3h0.01M307.8,116.8h0.01M310.4,121.4h0.01M308.2,130.0h0.01M303.8,119.6h0.01M307.8,122.9h0.01M309.3,128.8h0.01M308.9,113.8h0.01M314.8,128.5h0.01M310.8,129.0h0.01M311.9,130.8h0.01M308.3,121.0h0.01M306.7,113.3h0.01M310.7,122.6h0.01M314.8,128.9h0.01M307.6,121.1h0.01M307.0,110.5h0.01M308.4,130.0h0.01M300.6,103.2h0.01M304.0,114.4h0.01M310.9,129.2h0.01M315.1,130.2h0.01M315.5,129.0h0.01M314.1,127.3h0.01M309.1,112.9h0.01M309.7,127.6h0.01M314.7,129.1h0.01M311.9,129.6h0.01M308.9,118.5h0.01M313.4,122.6h0.01M313.1,125.3h0.01M307.7,124.9h0.01M311.1,127.2h0.01M305.4,107.5h0.01M310.8,128.8h0.01M309.8,115.1h0.01M309.6,126.2h0.01M312.6,122.6h0.01M308.2,111.4h0.01M314.0,124.6h0.01M307.6,125.3h0.01M302.6,104.0h0.01M303.8,111.9h0.01M304.9,126.3h0.01M313.7,127.6h0.01M312.5,130.8h0.01M311.1,121.4h0.01M309.6,116.5h0.01M309.0,130.6h0.01M308.5,126.5h0.01M307.0,129.8h0.01M311.9,122.7h0.01M315.5,127.8h0.01M310.4,127.1h0.01M310.5,120.8h0.01M306.0,123.2h0.01M307.3,117.0h0.01M316.6,129.0h0.01M323.4,130.2h0.01M322.0,129.3h0.01M324.6,129.5h0.01M330.1,126.5h0.01M332.7,114.6h0.01M328.0,105.9h0.01M326.0,112.2h0.01M328.8,128.1h0.01M320.2,130.8h0.01M328.0,109.9h0.01M328.4,124.5h0.01M331.6,112.3h0.01M334.4,93.4h0.01M321.3,127.6h0.01M324.4,119.2h0.01M322.9,123.9h0.01M325.2,130.8h0.01M327.8,125.1h0.01M328.7,114.5h0.01M325.9,117.4h0.01M325.5,120.8h0.01M322.4,124.1h0.01M321.4,127.6h0.01M326.2,109.2h0.01M329.1,119.0h0.01M327.4,110.3h0.01M322.6,125.2h0.01M325.8,124.6h0.01M321.8,128.7h0.01M330.1,96.0h0.01M329.7,128.9h0.01M323.8,120.1h0.01M329.2,104.7h0.01M325.5,124.4h0.01M324.5,130.2h0.01M329.7,125.4h0.01M325.1,121.9h0.01M331.1,127.6h0.01M331.1,94.0h0.01M327.4,122.8h0.01M325.7,125.4h0.01M323.4,130.1h0.01M320.6,129.4h0.01M324.5,126.3h0.01M325.5,125.4h0.01M326.9,127.4h0.01M321.3,127.5h0.01M327.2,116.5h0.01M322.7,125.3h0.01M327.8,114.5h0.01M323.4,129.3h0.01M321.1,129.8h0.01M325.7,122.2h0.01M323.7,120.4h0.01M329.7,116.3h0.01M325.6,115.6h0.01M325.2,119.9h0.01M321.7,130.5h0.01M329.3,103.1h0.01M321.0,128.7h0.01M322.4,124.6h0.01M320.5,130.4h0.01M329.7,92.3h0.01M328.2,110.8h0.01M327.6,129.3h0.01M326.2,127.2h0.01M324.9,125.5h0.01M324.7,126.3h0.01M328.7,127.6h0.01M335.4,127.8h0.01M333.4,128.1h0.01M322.9,130.2h0.01M322.9,130.0h0.01M326.8,123.8h0.01M322.8,130.0h0.01M322.9,130.8h0.01M320.4,129.4h0.01M327.4,123.5h0.01M322.8,129.9h0.01M327.0,121.6h0.01M327.1,121.8h0.01M325.3,123.8h0.01M323.3,126.0h0.01M332.4,92.3h0.01M327.2,108.7h0.01M327.4,127.8h0.01M323.3,124.2h0.01M323.2,130.2h0.01M324.1,128.5h0.01M329.1,120.4h0.01M326.5,110.5h0.01M328.5,127.7h0.01M323.7,127.7h0.01M326.4,123.6h0.01M324.6,125.0h0.01M320.9,130.7h0.01M330.2,129.5h0.01M320.2,130.0h0.01M320.6,128.9h0.01M327.9,129.5h0.01M328.6,123.6h0.01M332.0,130.7h0.01M327.0,110.9h0.01M338.0,130.0h0.01M325.6,120.2h0.01M320.5,129.3h0.01M327.4,124.6h0.01M306.8,130.8h0.01M325.1,130.6h0.01M317.3,128.0h0.01M311.9,130.0h0.01M306.8,129.7h0.01M328.2,130.7h0.01M317.6,130.5h0.01M313.2,130.1h0.01M310.5,130.5h0.01M304.0,129.9h0.01M308.2,129.3h0.01M324.3,129.5h0.01M326.2,130.1h0.01M326.0,130.5h0.01M319.4,128.9h0.01M310.0,130.0h0.01M304.2,129.9h0.01M311.7,129.8h0.01M329.3,128.9h0.01M318.7,130.5h0.01M305.4,130.3h0.01M326.5,130.7h0.01M330.6,130.7h0.01M306.0,130.6h0.01M305.4,128.8h0.01M330.6,90.9h0.01M327.8,110.0h0.01M326.3,99.2h0.01M326.5,109.4h0.01M326.9,102.9h0.01M330.3,96.8h0.01M330.4,106.5h0.01M332.6,104.2h0.01M331.3,108.2h0.01M332.2,92.1h0.01M346.8,129.8h0.01M344.3,128.3h0.01M333.4,128.3h0.01M346.4,129.3h0.01M329.5,129.0h0.01M330.8,126.6h0.01M346.7,130.3h0.01M344.4,130.4h0.01M345.0,129.4h0.01M340.7,128.7h0.01M299.4,114.9h0.01M300.1,129.9h0.01M301.5,116.5h0.01M297.5,119.9h0.01M297.8,124.3h0.01M297.9,111.6h0.01M301.2,125.1h0.01M293.1,125.9h0.01M291.2,125.6h0.01M289.4,125.2h0.01M283.5,121.9h0.01M339.3,128.2h0.01M344.9,125.2h0.01" stroke="#969696" stroke-opacity="0.55" stroke-width="1.4" stroke-linecap="round" fill="none"/>
<path d="M316.4,130.1h0.01M312.6,128.1h0.01M315.8,129.0h0.01M307.6,113.6h0.01M305.9,123.8h0.01M311.1,120.8h0.01M310.6,118.7h0.01M311.7,126.4h0.01M314.7,126.4h0.01M302.6,117.6h0.01M316.9,129.5h0.01M307.1,125.7h0.01M313.7,124.4h0.01M313.7,127.6h0.01M316.6,130.7h0.01M312.2,129.1h0.01M307.6,119.4h0.01M313.3,129.8h0.01M304.8,101.5h0.01M308.1,128.4h0.01M314.3,124.7h0.01M308.2,124.2h0.01M310.6,123.0h0.01M312.6,124.1h0.01M303.7,129.5h0.01M316.1,129.4h0.01M312.9,122.8h0.01M312.1,126.3h0.01M311.2,130.3h0.01M311.6,128.3h0.01M309.9,125.1h0.01M310.0,116.7h0.01M307.3,126.6h0.01M309.5,128.1h0.01M300.2,127.8h0.01M314.2,130.5h0.01M301.7,96.1h0.01M309.3,125.1h0.01M312.7,130.0h0.01M313.0,121.9h0.01M314.5,125.5h0.01M317.1,130.4h0.01M303.2,99.1h0.01M308.9,129.6h0.01M317.9,130.9h0.01M306.7,109.2h0.01M315.3,130.0h0.01M307.1,122.6h0.01M307.0,109.2h0.01M314.6,129.4h0.01M313.3,127.4h0.01M313.4,130.4h0.01M304.8,105.3h0.01M304.8,116.4h0.01M307.1,125.8h0.01M309.7,129.9h0.01M308.1,113.0h0.01M311.1,121.7h0.01M305.2,101.8h0.01M307.8,121.8h0.01M306.3,119.9h0.01M314.5,130.9h0.01M314.0,125.6h0.01M317.1,130.4h0.01M310.9,128.2h0.01M314.6,128.5h0.01M311.0,127.2h0.01M301.9,94.2h0.01M304.5,115.3h0.01M307.3,113.0h0.01M308.0,116.7h0.01M306.7,125.9h0.01M309.8,123.3h0.01M316.6,130.0h0.01M312.6,123.9h0.01M310.3,126.6h0.01M311.5,129.6h0.01M309.3,125.4h0.01M306.2,116.2h0.01M310.3,119.1h0.01M311.2,126.0h0.01M316.6,129.8h0.01M314.4,125.1h0.01M313.1,129.4h0.01M305.4,109.9h0.01M309.8,118.1h0.01M315.0,126.7h0.01M312.9,128.5h0.01M307.3,112.1h0.01M312.4,129.0h0.01M310.1,128.3h0.01M313.4,124.6h0.01M309.4,122.4h0.01M307.0,125.7h0.01M308.2,128.3h0.01M316.0,128.7h0.01M300.5,98.8h0.01M307.6,110.8h0.01M306.7,119.8h0.01M315.6,129.0h0.01M310.5,129.0h0.01M313.3,122.9h0.01M310.5,129.3h0.01M310.5,116.1h0.01M304.8,118.0h0.01M302.5,125.1h0.01M308.3,115.5h0.01M312.0,127.9h0.01M300.3,120.0h0.01M314.3,129.0h0.01M309.2,119.7h0.01M303.6,121.4h0.01M308.9,125.8h0.01M314.0,124.4h0.01M306.4,124.8h0.01M313.7,126.7h0.01M310.6,117.4h0.01M312.2,122.4h0.01M310.3,128.5h0.01M308.9,127.2h0.01M306.6,105.7h0.01M307.1,112.5h0.01M305.6,113.1h0.01M309.8,114.4h0.01M310.0,122.5h0.01M311.7,122.7h0.01M312.2,128.0h0.01M309.7,123.6h0.01M302.6,123.1h0.01M306.6,125.8h0.01M308.6,128.4h0.01M307.2,123.8h0.01M311.2,128.9h0.01M315.3,128.6h0.01M304.7,108.5h0.01M307.7,114.5h0.01M308.7,126.4h0.01M309.4,123.2h0.01M309.4,128.1h0.01M310.2,128.2h0.01M302.0,128.7h0.01M329.8,128.8h0.01M326.8,124.3h0.01M324.7,125.1h0.01M326.4,117.3h0.01M327.4,111.7h0.01M326.3,126.2h0.01M325.0,118.6h0.01M325.4,130.0h0.01M323.5,130.6h0.01M327.9,126.1h0.01M329.8,128.4h0.01M330.7,130.4h0.01M320.1,130.1h0.01M324.6,116.7h0.01M323.7,130.2h0.01M325.0,120.4h0.01M327.0,114.5h0.01M322.4,129.9h0.01M323.7,125.2h0.01M323.5,121.3h0.01M322.6,125.5h0.01M326.6,117.0h0.01M326.4,126.3h0.01M327.6,122.9h0.01M326.3,117.7h0.01M324.7,125.0h0.01M327.7,124.8h0.01M328.0,124.2h0.01M327.7,127.1h0.01M329.9,129.5h0.01M322.6,129.6h0.01M328.4,118.7h0.01M325.7,118.7h0.01M326.3,118.6h0.01M326.1,116.1h0.01M326.3,124.7h0.01M321.7,127.2h0.01M322.3,129.4h0.01M324.2,129.5h0.01M325.0,118.6h0.01M324.0,122.6h0.01M328.3,117.1h0.01M326.8,112.2h0.01M322.7,130.5h0.01M322.6,127.0h0.01M334.7,128.2h0.01M324.5,128.2h0.01M327.3,116.5h0.01M326.5,129.8h0.01M326.3,124.7h0.01M326.2,122.2h0.01M325.7,126.8h0.01M326.7,122.3h0.01M321.3,130.6h0.01M324.5,128.6h0.01M321.7,128.7h0.01M324.1,130.1h0.01M327.1,125.2h0.01M326.1,128.6h0.01M328.0,126.2h0.01M325.7,122.2h0.01M326.1,121.3h0.01M325.1,120.8h0.01M328.9,109.1h0.01M329.7,110.1h0.01M325.5,116.7h0.01M320.9,128.1h0.01M328.4,130.9h0.01M326.4,117.0h0.01M327.5,111.8h0.01M327.4,125.7h0.01M326.4,124.0h0.01M323.4,130.1h0.01M322.7,130.3h0.01M325.4,129.4h0.01M323.1,128.1h0.01M327.5,119.4h0.01M327.0,118.0h0.01M324.3,118.1h0.01M333.2,130.8h0.01M324.4,129.5h0.01M322.1,127.3h0.01M320.3,129.6h0.01M324.9,119.2h0.01M326.9,119.4h0.01M321.7,127.3h0.01M323.2,130.4h0.01M331.6,96.0h0.01M321.2,128.4h0.01M321.7,130.2h0.01M327.2,119.9h0.01M321.0,128.5h0.01M322.0,129.7h0.01M328.9,128.5h0.01M320.5,130.8h0.01M323.3,125.3h0.01M322.4,128.7h0.01M324.5,122.6h0.01M325.7,126.4h0.01M329.4,128.4h0.01M326.4,113.8h0.01M330.0,130.8h0.01M332.6,99.9h0.01M323.1,127.9h0.01M321.2,127.4h0.01M321.9,130.5h0.01M333.6,114.4h0.01M320.0,130.9h0.01M322.5,130.7h0.01M309.4,129.0h0.01M309.1,129.9h0.01M317.6,130.3h0.01M313.6,130.7h0.01M314.0,130.8h0.01M313.3,130.8h0.01M326.5,130.2h0.01M323.0,130.5h0.01M313.3,130.6h0.01M315.9,130.7h0.01M314.2,129.4h0.01M324.2,130.6h0.01M327.6,130.9h0.01M317.3,129.9h0.01M315.9,130.7h0.01M318.8,130.7h0.01M304.4,130.2h0.01M321.9,129.7h0.01M314.5,128.4h0.01M319.3,130.2h0.01M313.5,130.7h0.01M329.0,130.4h0.01M319.8,130.7h0.01M304.5,89.6h0.01M306.3,107.6h0.01M304.6,101.7h0.01M308.9,107.2h0.01M303.4,107.0h0.01M303.6,93.7h0.01M306.6,93.0h0.01M308.3,99.9h0.01M304.5,106.7h0.01M307.8,96.1h0.01M342.8,130.3h0.01M345.1,130.1h0.01M337.6,128.8h0.01M336.6,130.1h0.01M344.0,129.5h0.01M342.0,128.7h0.01M333.3,119.3h0.01M338.8,130.9h0.01M336.1,121.4h0.01M338.7,125.7h0.01M302.1,115.4h0.01M299.0,115.0h0.01M298.9,110.4h0.01M302.0,127.5h0.01M302.4,126.7h0.01M299.4,113.1h0.01M298.8,111.4h0.01M289.0,122.9h0.01M289.2,124.1h0.01M285.3,122.2h0.01M291.8,129.0h0.01M343.4,126.1h0.01M347.0,124.2h0.01" stroke="#969696" stroke-opacity="0.55" stroke-width="1.4" stroke-linecap="round" fill="none"/>
<line x1="275.00" y1="107.80" x2="363.20" y2="107.80" stroke="#6a6a6a" stroke-width="1.3" stroke-dasharray="2.7 2.6"/>
<text x="288.80" y="157.8" font-size="7.65" fill="#333">log<tspan font-size="5.4" dx="0.3" dy="2.2">2</tspan><tspan dx="0.5" dy="-2.2">(Fold change)</tspan></text>
<rect x="376.50" y="54.5" width="89.2" height="80.00" fill="none" stroke="#7a7a7a" stroke-width="1"/>
<line x1="380.32" y1="134.50" x2="380.32" y2="137.50" stroke="#666" stroke-width="0.9" />
<text x="380.32" y="145.80" font-size="6.5" text-anchor="middle" fill="#333" font-weight="normal" >−4</text>
<line x1="400.66" y1="134.50" x2="400.66" y2="137.50" stroke="#666" stroke-width="0.9" />
<text x="400.66" y="145.80" font-size="6.5" text-anchor="middle" fill="#333" font-weight="normal" >−2</text>
<line x1="421.00" y1="134.50" x2="421.00" y2="137.50" stroke="#666" stroke-width="0.9" />
<text x="421.00" y="145.80" font-size="6.5" text-anchor="middle" fill="#333" font-weight="normal" >0</text>
<line x1="441.34" y1="134.50" x2="441.34" y2="137.50" stroke="#666" stroke-width="0.9" />
<text x="441.34" y="145.80" font-size="6.5" text-anchor="middle" fill="#333" font-weight="normal" >2</text>
<line x1="461.68" y1="134.50" x2="461.68" y2="137.50" stroke="#666" stroke-width="0.9" />
<text x="461.68" y="145.80" font-size="6.5" text-anchor="middle" fill="#333" font-weight="normal" >4</text>
<line x1="374.00" y1="57.10" x2="376.50" y2="57.10" stroke="#666" stroke-width="0.9" />
<text x="370.90" y="60.00" font-size="6.5" text-anchor="end" fill="#333" font-weight="normal" >6</text>
<line x1="374.00" y1="81.70" x2="376.50" y2="81.70" stroke="#666" stroke-width="0.9" />
<text x="370.90" y="84.60" font-size="6.5" text-anchor="end" fill="#333" font-weight="normal" >4</text>
<line x1="374.00" y1="106.30" x2="376.50" y2="106.30" stroke="#666" stroke-width="0.9" />
<text x="370.90" y="109.20" font-size="6.5" text-anchor="end" fill="#333" font-weight="normal" >2</text>
<line x1="374.00" y1="130.90" x2="376.50" y2="130.90" stroke="#666" stroke-width="0.9" />
<text x="370.90" y="133.80" font-size="6.5" text-anchor="end" fill="#333" font-weight="normal" >0</text>
<path d="M399.9,130.5h0.01M426.9,130.2h0.01M431.7,129.4h0.01M419.6,130.7h0.01M402.7,129.8h0.01M421.1,130.2h0.01M415.9,130.9h0.01M417.7,130.0h0.01M427.8,130.5h0.01M440.9,130.2h0.01M415.5,130.0h0.01M393.6,130.4h0.01M419.9,130.7h0.01M421.9,129.8h0.01M422.6,130.0h0.01M408.3,130.8h0.01M426.5,130.6h0.01M436.6,130.7h0.01M417.0,130.4h0.01M414.1,129.9h0.01M417.3,130.3h0.01M421.7,130.7h0.01M418.1,130.6h0.01M405.4,129.7h0.01M423.2,130.9h0.01M398.0,130.9h0.01M403.1,130.6h0.01M416.8,129.2h0.01M419.5,130.4h0.01M421.0,130.8h0.01M419.5,130.6h0.01M426.4,130.6h0.01M408.1,130.6h0.01M421.7,130.2h0.01M428.2,130.1h0.01M413.6,130.7h0.01M420.8,130.6h0.01M420.9,130.4h0.01M416.1,130.1h0.01M416.0,130.3h0.01M411.4,130.1h0.01M414.8,130.5h0.01M420.5,130.5h0.01M417.6,128.6h0.01M426.0,130.3h0.01M414.4,130.5h0.01M423.6,130.2h0.01M424.4,130.8h0.01M411.5,130.5h0.01M416.9,130.7h0.01M406.9,130.1h0.01M417.6,129.3h0.01M424.8,130.5h0.01M420.8,130.8h0.01M399.9,130.5h0.01M409.7,127.3h0.01M411.7,129.4h0.01M409.6,127.9h0.01M396.4,126.7h0.01M401.7,126.5h0.01M399.8,126.0h0.01M405.6,129.3h0.01M397.3,127.2h0.01M394.8,127.9h0.01M401.1,128.4h0.01M407.2,129.2h0.01M408.8,130.5h0.01M414.1,130.1h0.01M416.4,128.9h0.01M401.2,122.2h0.01M404.9,130.4h0.01M399.4,129.3h0.01M402.1,130.5h0.01M403.3,121.8h0.01M397.2,130.3h0.01M396.1,126.8h0.01M412.8,126.5h0.01M405.6,127.9h0.01M393.7,128.6h0.01M426.2,128.8h0.01M425.2,128.1h0.01M430.7,129.3h0.01M425.6,130.1h0.01M430.0,128.1h0.01M431.1,128.4h0.01M429.5,130.4h0.01M428.6,129.5h0.01M429.5,128.1h0.01M431.6,124.8h0.01M435.0,127.6h0.01M429.5,127.8h0.01M390.0,119.8h0.01M384.4,130.3h0.01" stroke="#969696" stroke-opacity="0.55" stroke-width="1.4" stroke-linecap="round" fill="none"/>
<path d="M425.3,130.9h0.01M422.4,130.9h0.01M410.1,130.8h0.01M431.9,129.8h0.01M433.5,130.6h0.01M412.1,130.1h0.01M399.1,130.0h0.01M413.9,130.6h0.01M427.6,130.5h0.01M407.4,130.5h0.01M440.9,130.0h0.01M436.9,130.5h0.01M428.8,130.8h0.01M407.8,129.9h0.01M421.7,130.1h0.01M430.0,130.6h0.01M405.2,130.1h0.01M430.1,129.9h0.01M431.7,130.4h0.01M418.8,129.8h0.01M406.7,130.5h0.01M404.2,130.7h0.01M420.7,130.5h0.01M411.4,130.9h0.01M425.4,130.5h0.01M412.9,130.9h0.01M409.9,129.8h0.01M414.7,129.5h0.01M396.4,130.5h0.01M424.7,129.9h0.01M422.2,130.2h0.01M411.3,130.9h0.01M413.6,130.4h0.01M418.2,130.3h0.01M429.2,130.9h0.01M424.0,130.4h0.01M420.4,129.8h0.01M425.5,130.0h0.01M415.7,130.9h0.01M420.9,130.6h0.01M420.3,130.8h0.01M413.3,130.5h0.01M430.8,129.4h0.01M420.1,130.5h0.01M428.4,130.2h0.01M423.3,129.5h0.01M414.7,129.6h0.01M419.8,130.7h0.01M422.8,130.4h0.01M413.5,130.8h0.01M419.5,130.4h0.01M429.5,130.5h0.01M419.9,130.3h0.01M419.1,130.7h0.01M431.2,130.7h0.01M408.9,130.5h0.01M396.6,129.4h0.01M414.3,128.1h0.01M407.3,127.2h0.01M409.9,129.0h0.01M405.0,125.1h0.01M408.1,128.1h0.01M404.1,124.9h0.01M395.6,126.8h0.01M403.1,126.6h0.01M402.0,125.9h0.01M411.3,124.4h0.01M393.7,128.3h0.01M405.0,126.8h0.01M397.6,128.8h0.01M396.9,129.4h0.01M409.4,124.4h0.01M409.4,129.2h0.01M402.4,126.3h0.01M400.5,130.4h0.01M400.5,130.1h0.01M401.1,128.6h0.01M410.4,126.2h0.01M401.0,127.9h0.01M426.9,130.2h0.01M431.0,128.2h0.01M428.7,124.9h0.01M436.5,128.6h0.01M436.0,130.1h0.01M426.5,128.1h0.01M427.3,128.1h0.01M436.8,129.3h0.01M429.4,125.9h0.01M427.6,125.6h0.01M430.7,122.8h0.01M434.6,128.5h0.01M441.3,124.3h0.01M444.4,128.4h0.01" stroke="#969696" stroke-opacity="0.55" stroke-width="1.4" stroke-linecap="round" fill="none"/>
<path d="M436.4,130.2h0.01M422.0,130.7h0.01M433.5,130.7h0.01M397.9,130.6h0.01M394.0,130.2h0.01M403.6,130.8h0.01M427.1,130.6h0.01M402.1,130.0h0.01M393.2,130.7h0.01M409.9,130.8h0.01M415.8,130.3h0.01M440.4,129.5h0.01M419.7,130.3h0.01M420.0,130.7h0.01M409.9,130.6h0.01M410.9,129.9h0.01M409.6,130.6h0.01M414.4,130.4h0.01M426.8,129.9h0.01M411.3,130.7h0.01M420.0,130.6h0.01M416.1,130.5h0.01M409.3,130.1h0.01M417.1,130.3h0.01M424.5,130.2h0.01M426.8,130.4h0.01M427.7,130.5h0.01M428.2,130.2h0.01M426.3,130.5h0.01M416.5,130.0h0.01M424.8,129.8h0.01M415.6,130.3h0.01M419.3,130.5h0.01M410.9,130.9h0.01M426.3,130.5h0.01M423.8,130.4h0.01M422.0,130.6h0.01M415.2,130.4h0.01M423.6,130.6h0.01M429.8,130.7h0.01M409.5,130.8h0.01M416.2,130.8h0.01M409.9,130.0h0.01M415.3,130.7h0.01M420.0,130.2h0.01M432.3,130.7h0.01M427.6,130.1h0.01M425.1,129.4h0.01M410.5,130.4h0.01M426.2,129.8h0.01M408.2,130.6h0.01M415.7,130.8h0.01M423.4,130.0h0.01M414.9,129.6h0.01M424.5,130.5h0.01M416.6,130.3h0.01M405.4,128.9h0.01M408.0,127.4h0.01M406.9,127.0h0.01M399.4,127.6h0.01M413.5,128.0h0.01M415.1,128.1h0.01M396.8,127.5h0.01M403.0,128.2h0.01M400.3,125.9h0.01M395.1,128.4h0.01M398.9,126.0h0.01M410.2,127.8h0.01M395.9,129.1h0.01M407.0,122.7h0.01M395.3,129.7h0.01M401.0,128.2h0.01M408.2,130.5h0.01M409.9,128.1h0.01M407.0,128.3h0.01M396.1,130.5h0.01M409.9,130.2h0.01M407.8,129.3h0.01M431.3,125.8h0.01M432.2,125.4h0.01M434.3,129.5h0.01M429.3,128.8h0.01M434.9,127.9h0.01M425.5,129.9h0.01M430.8,127.6h0.01M432.3,125.8h0.01M426.5,129.8h0.01M427.6,125.1h0.01M431.1,121.7h0.01M436.6,129.0h0.01M433.1,126.0h0.01M403.7,117.4h0.01M398.6,122.3h0.01" stroke="#969696" stroke-opacity="0.55" stroke-width="1.4" stroke-linecap="round" fill="none"/>
<path d="M436.4,130.8h0.01M432.8,130.8h0.01M408.4,130.0h0.01M403.5,130.5h0.01M430.5,130.2h0.01M434.9,129.8h0.01M414.7,130.7h0.01M405.5,130.0h0.01M434.7,130.7h0.01M436.4,130.7h0.01M432.6,130.7h0.01M413.8,130.8h0.01M407.2,130.7h0.01M424.4,130.3h0.01M420.0,130.9h0.01M432.0,130.7h0.01M419.8,129.6h0.01M416.1,130.8h0.01M427.2,129.6h0.01M420.2,130.3h0.01M414.8,130.6h0.01M423.8,130.9h0.01M417.9,130.1h0.01M405.5,129.5h0.01M423.6,129.8h0.01M419.7,129.6h0.01M428.8,130.3h0.01M400.4,130.5h0.01M408.2,130.9h0.01M412.9,130.0h0.01M416.8,130.7h0.01M416.1,130.8h0.01M416.4,130.4h0.01M421.7,129.5h0.01M418.4,130.9h0.01M412.3,130.7h0.01M421.1,130.4h0.01M421.3,130.9h0.01M415.0,130.4h0.01M421.9,130.1h0.01M427.9,130.1h0.01M429.2,130.7h0.01M425.6,129.1h0.01M414.5,130.1h0.01M431.1,129.9h0.01M422.3,129.9h0.01M406.1,130.3h0.01M415.8,130.1h0.01M403.5,130.4h0.01M417.3,129.8h0.01M415.1,129.6h0.01M411.8,130.2h0.01M423.7,130.0h0.01M433.2,130.8h0.01M409.7,130.0h0.01M404.3,126.7h0.01M405.9,129.2h0.01M392.8,129.9h0.01M402.1,129.5h0.01M399.5,128.3h0.01M397.1,129.3h0.01M403.7,122.6h0.01M414.4,128.1h0.01M394.3,128.5h0.01M394.4,127.8h0.01M408.5,130.1h0.01M404.8,121.7h0.01M414.9,128.6h0.01M392.2,130.4h0.01M414.3,127.5h0.01M399.3,129.5h0.01M408.7,125.4h0.01M403.3,126.5h0.01M397.7,129.8h0.01M414.5,127.7h0.01M401.9,124.5h0.01M395.7,128.5h0.01M404.3,130.3h0.01M427.2,126.4h0.01M433.3,127.0h0.01M427.0,130.2h0.01M431.2,126.6h0.01M432.0,126.6h0.01M432.4,123.7h0.01M426.5,129.1h0.01M431.9,122.8h0.01M432.4,128.3h0.01M432.8,127.4h0.01M426.3,129.3h0.01M434.8,129.7h0.01M427.7,128.1h0.01M424.8,110.1h0.01M408.8,121.1h0.01" stroke="#969696" stroke-opacity="0.55" stroke-width="1.4" stroke-linecap="round" fill="none"/>
<path d="M424.2,129.8h0.01M403.5,130.5h0.01M399.3,130.9h0.01M408.7,130.5h0.01M413.2,130.8h0.01M439.5,130.9h0.01M412.2,130.6h0.01M440.0,130.5h0.01M405.4,130.0h0.01M397.5,130.3h0.01M420.0,130.7h0.01M411.5,130.4h0.01M419.5,130.2h0.01M414.8,130.1h0.01M416.5,130.2h0.01M417.4,130.7h0.01M416.9,130.7h0.01M420.2,130.9h0.01M408.1,129.5h0.01M417.2,130.8h0.01M420.6,130.0h0.01M414.7,129.3h0.01M424.7,129.9h0.01M425.6,130.1h0.01M417.6,129.8h0.01M407.7,130.3h0.01M426.0,130.5h0.01M421.8,130.5h0.01M406.2,130.9h0.01M412.2,130.8h0.01M431.9,130.8h0.01M417.3,130.6h0.01M410.4,130.7h0.01M420.4,129.6h0.01M432.6,130.7h0.01M417.2,130.2h0.01M419.6,130.8h0.01M409.2,129.6h0.01M422.0,130.2h0.01M418.1,130.9h0.01M412.2,130.1h0.01M417.1,130.9h0.01M420.4,130.8h0.01M418.9,130.6h0.01M419.0,130.9h0.01M417.6,130.7h0.01M417.4,130.2h0.01M423.5,130.1h0.01M417.8,129.5h0.01M424.5,130.3h0.01M415.5,130.8h0.01M407.8,130.5h0.01M415.4,130.2h0.01M404.6,130.2h0.01M406.4,130.5h0.01M403.2,127.4h0.01M396.9,127.4h0.01M395.7,129.1h0.01M410.8,128.9h0.01M405.7,130.4h0.01M396.5,129.7h0.01M405.3,121.0h0.01M402.2,129.5h0.01M401.2,126.3h0.01M413.2,125.9h0.01M406.4,126.5h0.01M407.3,126.0h0.01M405.1,125.7h0.01M409.3,130.5h0.01M394.7,128.7h0.01M401.7,126.9h0.01M403.0,128.8h0.01M404.0,123.5h0.01M411.8,127.8h0.01M405.7,126.7h0.01M405.4,127.1h0.01M398.8,124.0h0.01M399.4,130.2h0.01M426.7,129.6h0.01M433.9,129.1h0.01M429.6,127.6h0.01M429.5,126.4h0.01M432.4,123.8h0.01M431.1,128.8h0.01M427.1,127.3h0.01M431.7,128.0h0.01M428.8,130.4h0.01M436.5,130.0h0.01M435.6,128.4h0.01M430.5,130.2h0.01M431.2,123.3h0.01M388.5,127.2h0.01" stroke="#969696" stroke-opacity="0.55" stroke-width="1.4" stroke-linecap="round" fill="none"/>
<path d="M435.4,130.2h0.01M397.1,130.2h0.01M406.0,130.3h0.01M420.3,130.7h0.01M395.6,130.2h0.01M408.6,130.7h0.01M406.3,130.6h0.01M429.0,129.6h0.01M409.9,130.5h0.01M397.7,130.3h0.01M417.3,130.8h0.01M405.4,130.8h0.01M412.9,130.3h0.01M425.2,130.6h0.01M420.4,130.4h0.01M441.4,130.8h0.01M419.5,130.8h0.01M415.4,129.8h0.01M419.2,129.6h0.01M419.5,130.9h0.01M417.6,130.7h0.01M405.9,130.9h0.01M405.3,130.8h0.01M435.5,129.8h0.01M413.6,129.7h0.01M430.5,130.7h0.01M418.0,129.9h0.01M435.1,130.3h0.01M424.8,129.8h0.01M421.6,130.8h0.01M422.1,130.7h0.01M414.2,130.1h0.01M414.9,130.7h0.01M433.3,130.1h0.01M426.3,130.9h0.01M406.5,130.9h0.01M427.1,130.7h0.01M404.7,130.7h0.01M415.1,130.9h0.01M420.0,130.4h0.01M429.8,129.8h0.01M421.0,130.5h0.01M427.6,129.1h0.01M438.2,130.6h0.01M427.3,129.8h0.01M417.3,130.9h0.01M416.2,129.3h0.01M407.7,130.4h0.01M426.5,130.5h0.01M412.9,130.3h0.01M427.0,130.4h0.01M422.9,130.8h0.01M428.3,130.5h0.01M410.5,130.4h0.01M416.3,130.0h0.01M405.3,129.9h0.01M404.6,121.9h0.01M404.5,121.3h0.01M404.6,120.6h0.01M397.5,126.2h0.01M410.1,128.2h0.01M396.0,130.3h0.01M397.0,128.2h0.01M405.6,130.5h0.01M393.8,130.3h0.01M394.3,128.4h0.01M412.0,130.1h0.01M403.5,127.3h0.01M412.3,130.4h0.01M411.7,128.6h0.01M409.2,125.4h0.01M411.7,129.2h0.01M404.0,126.1h0.01M402.1,125.5h0.01M406.4,124.4h0.01M404.6,126.6h0.01M403.3,123.2h0.01M392.2,129.7h0.01M431.3,129.1h0.01M436.4,130.1h0.01M430.6,125.1h0.01M429.6,123.4h0.01M427.2,129.8h0.01M428.1,125.0h0.01M428.4,128.0h0.01M429.3,129.6h0.01M432.4,125.0h0.01M435.4,128.3h0.01M428.0,128.1h0.01M431.6,123.9h0.01M382.9,120.4h0.01M447.4,129.9h0.01" stroke="#969696" stroke-opacity="0.55" stroke-width="1.4" stroke-linecap="round" fill="none"/>
<line x1="377.00" y1="114.90" x2="465.20" y2="114.90" stroke="#6a6a6a" stroke-width="1.3" stroke-dasharray="2.7 2.6"/>
<text x="390.80" y="157.8" font-size="7.65" fill="#333">log<tspan font-size="5.4" dx="0.3" dy="2.2">2</tspan><tspan dx="0.5" dy="-2.2">(Fold change)</tspan></text>
<rect x="482.50" y="54.5" width="89.2" height="80.00" fill="none" stroke="#7a7a7a" stroke-width="1"/>
<line x1="486.32" y1="134.50" x2="486.32" y2="137.50" stroke="#666" stroke-width="0.9" />
<text x="486.32" y="145.80" font-size="6.5" text-anchor="middle" fill="#333" font-weight="normal" >−4</text>
<line x1="506.66" y1="134.50" x2="506.66" y2="137.50" stroke="#666" stroke-width="0.9" />
<text x="506.66" y="145.80" font-size="6.5" text-anchor="middle" fill="#333" font-weight="normal" >−2</text>
<line x1="527.00" y1="134.50" x2="527.00" y2="137.50" stroke="#666" stroke-width="0.9" />
<text x="527.00" y="145.80" font-size="6.5" text-anchor="middle" fill="#333" font-weight="normal" >0</text>
<line x1="547.34" y1="134.50" x2="547.34" y2="137.50" stroke="#666" stroke-width="0.9" />
<text x="547.34" y="145.80" font-size="6.5" text-anchor="middle" fill="#333" font-weight="normal" >2</text>
<line x1="567.68" y1="134.50" x2="567.68" y2="137.50" stroke="#666" stroke-width="0.9" />
<text x="567.68" y="145.80" font-size="6.5" text-anchor="middle" fill="#333" font-weight="normal" >4</text>
<line x1="480.00" y1="61.30" x2="482.50" y2="61.30" stroke="#666" stroke-width="0.9" />
<text x="476.90" y="64.20" font-size="6.5" text-anchor="end" fill="#333" font-weight="normal" >15</text>
<line x1="480.00" y1="84.50" x2="482.50" y2="84.50" stroke="#666" stroke-width="0.9" />
<text x="476.90" y="87.40" font-size="6.5" text-anchor="end" fill="#333" font-weight="normal" >10</text>
<line x1="480.00" y1="107.70" x2="482.50" y2="107.70" stroke="#666" stroke-width="0.9" />
<text x="476.90" y="110.60" font-size="6.5" text-anchor="end" fill="#333" font-weight="normal" >5</text>
<line x1="480.00" y1="130.90" x2="482.50" y2="130.90" stroke="#666" stroke-width="0.9" />
<text x="476.90" y="133.80" font-size="6.5" text-anchor="end" fill="#333" font-weight="normal" >0</text>
<path d="M523.3,130.9h0.01M516.0,130.8h0.01M535.5,130.6h0.01M522.1,130.7h0.01M535.0,130.6h0.01M552.9,130.8h0.01M507.3,130.8h0.01M538.3,130.8h0.01M541.1,130.9h0.01M532.9,130.6h0.01M547.3,130.8h0.01M542.5,130.7h0.01M516.4,130.7h0.01M536.9,130.9h0.01M518.1,130.7h0.01M528.1,130.8h0.01M517.3,130.9h0.01M504.8,130.8h0.01M551.7,130.7h0.01M539.0,130.9h0.01M539.6,130.9h0.01M510.7,130.8h0.01M553.1,130.7h0.01M538.1,130.7h0.01M526.6,130.9h0.01M498.9,130.6h0.01M541.3,130.4h0.01M541.2,130.9h0.01M516.1,130.9h0.01M518.5,130.9h0.01M534.2,130.6h0.01M515.7,130.4h0.01M529.3,130.7h0.01M523.0,130.8h0.01M539.5,130.9h0.01M523.5,130.7h0.01M533.5,130.8h0.01M539.2,130.8h0.01M539.6,130.7h0.01M517.2,130.7h0.01M538.6,130.7h0.01M538.4,130.7h0.01M532.5,130.8h0.01M519.8,130.9h0.01M537.9,130.6h0.01M534.1,130.4h0.01M518.0,130.8h0.01M517.7,130.8h0.01M519.3,130.8h0.01M529.7,130.8h0.01M521.5,130.7h0.01M539.3,130.8h0.01M524.1,130.8h0.01M522.2,130.7h0.01M524.0,130.7h0.01M513.4,130.4h0.01M530.8,130.7h0.01M527.5,130.8h0.01M535.4,130.7h0.01M526.4,130.7h0.01M528.8,130.8h0.01M540.5,130.8h0.01M518.7,130.5h0.01M532.2,130.6h0.01M535.9,130.6h0.01M536.7,130.8h0.01M540.8,130.8h0.01M522.7,130.7h0.01M529.1,130.7h0.01M535.4,130.6h0.01M524.1,130.6h0.01M524.2,130.9h0.01M512.4,130.8h0.01M515.4,130.8h0.01M517.6,130.6h0.01M526.0,130.7h0.01M518.7,130.8h0.01M522.3,130.8h0.01M524.8,130.9h0.01M534.9,130.9h0.01M523.6,130.7h0.01M531.8,130.8h0.01M535.9,130.8h0.01M536.3,130.7h0.01M540.9,130.7h0.01M516.0,130.8h0.01M536.8,130.8h0.01M530.1,130.6h0.01M539.3,130.7h0.01M535.0,130.7h0.01M512.4,130.9h0.01M536.5,130.9h0.01M528.5,130.7h0.01M538.5,130.6h0.01M528.9,130.8h0.01M537.0,130.7h0.01M518.6,130.8h0.01M522.1,130.8h0.01M540.4,130.5h0.01M533.3,130.8h0.01M527.7,130.9h0.01M512.8,130.8h0.01M522.9,130.8h0.01M540.0,130.9h0.01M518.7,130.5h0.01M515.7,130.6h0.01M537.6,130.9h0.01M537.2,130.9h0.01M516.3,130.8h0.01M533.8,130.9h0.01M520.4,130.8h0.01M514.8,130.8h0.01M521.7,130.8h0.01M535.2,130.8h0.01M512.5,130.9h0.01M530.0,130.9h0.01M540.2,130.8h0.01M521.6,130.7h0.01M527.0,130.8h0.01M530.6,130.8h0.01M515.2,130.7h0.01M525.7,130.9h0.01M513.1,130.8h0.01M528.0,130.6h0.01M537.3,130.8h0.01M516.6,130.7h0.01M514.6,130.8h0.01M527.2,130.7h0.01M520.8,130.8h0.01M534.6,130.8h0.01M527.4,130.6h0.01M537.5,130.7h0.01M522.5,130.8h0.01M516.6,130.9h0.01M525.1,130.7h0.01M522.7,130.7h0.01M534.1,130.7h0.01M522.6,130.8h0.01M526.8,130.9h0.01M524.7,130.7h0.01M524.7,130.9h0.01M524.8,130.8h0.01M532.9,130.9h0.01M527.5,130.8h0.01M518.7,130.9h0.01M532.2,130.7h0.01M525.1,130.6h0.01M528.5,130.8h0.01M522.3,130.8h0.01M521.8,130.9h0.01M529.5,130.6h0.01M524.7,130.7h0.01M519.7,130.6h0.01M523.9,130.9h0.01M516.8,130.8h0.01M527.7,130.8h0.01M523.0,130.7h0.01M530.9,130.7h0.01M523.1,130.9h0.01M521.5,130.8h0.01M538.2,128.1h0.01M493.4,130.9h0.01" stroke="#969696" stroke-opacity="0.55" stroke-width="1.4" stroke-linecap="round" fill="none"/>
<path d="M555.9,130.7h0.01M528.1,130.9h0.01M549.0,130.4h0.01M509.5,130.8h0.01M519.4,130.8h0.01M532.6,130.7h0.01M518.2,130.8h0.01M520.3,130.6h0.01M534.6,130.9h0.01M536.3,130.7h0.01M498.8,130.5h0.01M531.5,130.7h0.01M510.2,130.9h0.01M542.7,130.8h0.01M503.6,130.7h0.01M513.8,130.6h0.01M516.8,130.8h0.01M519.5,130.8h0.01M544.3,130.7h0.01M511.9,130.6h0.01M500.4,130.9h0.01M542.7,130.5h0.01M504.9,130.7h0.01M522.0,130.9h0.01M502.6,130.7h0.01M552.0,130.7h0.01M510.3,130.7h0.01M515.3,130.6h0.01M537.6,130.8h0.01M512.7,130.8h0.01M521.0,130.9h0.01M518.3,130.7h0.01M526.6,130.9h0.01M540.4,130.9h0.01M520.5,130.7h0.01M519.0,130.8h0.01M514.2,130.8h0.01M533.4,130.8h0.01M539.8,130.8h0.01M521.1,130.6h0.01M517.0,130.9h0.01M524.6,130.8h0.01M525.6,130.8h0.01M518.4,130.8h0.01M531.2,130.9h0.01M522.1,130.4h0.01M535.6,130.6h0.01M524.9,130.8h0.01M527.1,130.7h0.01M534.9,130.8h0.01M516.1,130.8h0.01M537.3,130.6h0.01M527.9,130.7h0.01M516.7,130.8h0.01M537.2,130.9h0.01M535.7,130.7h0.01M535.6,130.7h0.01M538.4,130.9h0.01M522.8,130.7h0.01M536.9,130.8h0.01M521.6,130.9h0.01M540.0,130.8h0.01M518.7,130.8h0.01M533.0,130.7h0.01M526.4,130.8h0.01M522.1,130.8h0.01M539.4,130.8h0.01M529.0,130.5h0.01M519.1,130.8h0.01M525.6,130.8h0.01M528.5,130.8h0.01M529.4,130.9h0.01M534.1,130.8h0.01M518.7,130.4h0.01M515.2,130.8h0.01M525.9,130.8h0.01M530.5,130.9h0.01M540.8,130.8h0.01M513.0,130.6h0.01M512.4,130.9h0.01M527.4,130.7h0.01M530.5,130.8h0.01M512.4,130.8h0.01M527.2,130.9h0.01M534.7,130.5h0.01M541.2,130.6h0.01M533.6,130.7h0.01M518.2,130.8h0.01M517.2,130.9h0.01M522.9,130.4h0.01M519.8,130.8h0.01M533.7,130.9h0.01M515.7,130.8h0.01M514.5,130.9h0.01M531.8,130.9h0.01M534.1,130.8h0.01M529.4,130.9h0.01M539.7,130.7h0.01M534.3,130.8h0.01M540.9,130.6h0.01M521.2,130.7h0.01M528.5,130.8h0.01M523.8,130.5h0.01M527.7,130.8h0.01M520.1,130.4h0.01M538.0,130.7h0.01M528.9,130.8h0.01M539.9,130.9h0.01M533.1,130.7h0.01M538.5,130.8h0.01M540.8,130.6h0.01M514.5,130.5h0.01M536.3,130.9h0.01M534.3,130.3h0.01M540.4,130.9h0.01M534.6,130.8h0.01M529.1,130.9h0.01M526.0,130.9h0.01M527.7,130.8h0.01M513.0,130.7h0.01M518.5,130.9h0.01M539.4,130.9h0.01M532.6,130.7h0.01M517.0,130.8h0.01M532.7,130.8h0.01M525.7,130.6h0.01M532.7,130.7h0.01M530.6,130.9h0.01M529.6,130.7h0.01M529.8,130.8h0.01M525.6,130.9h0.01M523.3,130.8h0.01M528.4,130.8h0.01M533.2,130.8h0.01M516.0,130.6h0.01M526.6,130.8h0.01M528.9,130.9h0.01M517.9,130.9h0.01M528.1,130.8h0.01M524.9,130.9h0.01M523.2,130.9h0.01M531.7,130.8h0.01M534.9,130.7h0.01M529.1,130.8h0.01M537.1,130.8h0.01M531.5,130.8h0.01M523.1,130.7h0.01M532.1,130.9h0.01M519.8,130.9h0.01M524.8,130.7h0.01M529.4,130.8h0.01M528.0,130.8h0.01M527.3,130.6h0.01M522.4,130.8h0.01M523.2,130.6h0.01M517.4,130.6h0.01M533.6,130.8h0.01M532.0,130.7h0.01M514.9,130.6h0.01M528.1,130.7h0.01M537.2,128.8h0.01M495.5,130.7h0.01" stroke="#969696" stroke-opacity="0.55" stroke-width="1.4" stroke-linecap="round" fill="none"/>
<path d="M547.1,130.9h0.01M525.4,130.7h0.01M499.5,130.6h0.01M503.2,130.6h0.01M528.4,130.9h0.01M512.6,130.8h0.01M511.8,130.5h0.01M515.7,130.7h0.01M511.6,130.7h0.01M509.2,130.8h0.01M543.8,130.8h0.01M520.2,130.4h0.01M542.2,130.7h0.01M540.9,130.7h0.01M531.8,130.7h0.01M514.6,130.6h0.01M550.5,130.7h0.01M512.6,130.8h0.01M517.3,130.8h0.01M518.5,130.8h0.01M506.7,130.8h0.01M517.8,130.8h0.01M541.8,130.6h0.01M552.6,130.8h0.01M522.9,130.7h0.01M545.7,130.8h0.01M536.9,130.6h0.01M533.5,130.8h0.01M519.2,130.8h0.01M515.8,130.8h0.01M528.3,130.8h0.01M533.9,130.7h0.01M516.0,130.7h0.01M533.2,130.9h0.01M513.9,130.9h0.01M537.1,130.5h0.01M526.0,130.6h0.01M522.2,130.8h0.01M515.5,130.7h0.01M527.2,130.6h0.01M518.4,130.8h0.01M540.6,130.8h0.01M517.4,130.9h0.01M521.7,130.7h0.01M517.0,130.9h0.01M519.7,130.8h0.01M532.0,130.9h0.01M517.0,130.8h0.01M533.3,130.9h0.01M536.9,130.8h0.01M515.9,130.7h0.01M527.8,130.7h0.01M535.3,130.7h0.01M535.8,130.7h0.01M522.8,130.7h0.01M527.9,130.9h0.01M513.8,130.5h0.01M526.1,130.7h0.01M525.3,130.7h0.01M532.9,130.8h0.01M514.5,130.7h0.01M514.4,130.6h0.01M513.9,130.9h0.01M520.5,130.9h0.01M533.6,130.8h0.01M521.1,130.8h0.01M541.2,130.8h0.01M537.7,130.7h0.01M515.0,130.6h0.01M539.1,130.4h0.01M537.1,130.8h0.01M514.9,130.9h0.01M512.8,130.8h0.01M521.7,130.7h0.01M538.9,130.8h0.01M524.5,130.7h0.01M532.3,130.8h0.01M526.1,130.8h0.01M518.1,130.9h0.01M537.8,130.7h0.01M541.0,130.8h0.01M538.9,130.8h0.01M533.3,130.9h0.01M515.7,130.5h0.01M514.6,130.7h0.01M527.3,130.9h0.01M528.7,130.8h0.01M530.2,130.6h0.01M514.0,130.7h0.01M535.2,130.9h0.01M512.3,130.8h0.01M519.0,130.9h0.01M531.8,130.7h0.01M522.3,130.8h0.01M515.2,130.7h0.01M517.2,130.7h0.01M515.0,130.9h0.01M527.9,130.8h0.01M525.0,130.7h0.01M519.9,130.9h0.01M514.3,130.8h0.01M522.4,130.9h0.01M525.0,130.6h0.01M533.8,130.9h0.01M515.6,130.9h0.01M525.9,130.6h0.01M526.2,130.8h0.01M537.5,130.9h0.01M536.4,130.9h0.01M540.3,130.7h0.01M515.0,130.9h0.01M522.5,130.6h0.01M515.3,130.8h0.01M529.6,130.8h0.01M537.4,130.8h0.01M518.7,130.9h0.01M537.0,130.7h0.01M527.0,130.9h0.01M526.7,130.6h0.01M522.0,130.7h0.01M530.8,130.9h0.01M522.5,130.9h0.01M526.8,130.7h0.01M537.3,130.5h0.01M528.4,130.9h0.01M531.0,130.8h0.01M527.9,130.4h0.01M529.5,130.7h0.01M518.3,130.7h0.01M519.6,130.7h0.01M523.0,130.8h0.01M522.0,130.8h0.01M519.0,130.8h0.01M529.5,130.8h0.01M532.3,130.8h0.01M518.9,130.9h0.01M522.4,130.9h0.01M522.6,130.8h0.01M524.2,130.7h0.01M528.6,130.7h0.01M532.4,130.9h0.01M533.8,130.7h0.01M531.0,130.9h0.01M534.2,130.7h0.01M520.2,130.7h0.01M521.5,130.8h0.01M522.0,130.8h0.01M529.1,130.8h0.01M528.2,130.7h0.01M530.7,130.8h0.01M523.3,130.9h0.01M532.7,130.9h0.01M526.8,130.6h0.01M518.1,130.8h0.01M517.2,130.8h0.01M522.9,130.9h0.01M520.3,130.8h0.01M521.5,130.8h0.01M527.5,130.9h0.01M527.0,130.8h0.01M500.6,128.6h0.01M558.5,130.9h0.01" stroke="#969696" stroke-opacity="0.55" stroke-width="1.4" stroke-linecap="round" fill="none"/>
<path d="M550.2,130.8h0.01M551.4,130.5h0.01M547.6,130.8h0.01M555.2,130.9h0.01M532.1,130.4h0.01M516.5,130.7h0.01M543.6,130.7h0.01M501.9,130.6h0.01M508.9,130.8h0.01M555.0,130.8h0.01M540.1,130.9h0.01M555.7,130.5h0.01M526.6,130.6h0.01M537.1,130.8h0.01M508.1,130.9h0.01M541.9,130.8h0.01M499.4,130.8h0.01M531.8,130.8h0.01M505.9,130.7h0.01M527.2,130.8h0.01M528.9,130.7h0.01M521.3,130.7h0.01M533.1,130.5h0.01M520.5,130.8h0.01M555.0,130.5h0.01M514.1,130.5h0.01M532.1,130.8h0.01M513.5,130.8h0.01M525.6,130.8h0.01M524.4,130.5h0.01M529.5,130.9h0.01M531.0,130.9h0.01M524.6,130.7h0.01M523.7,130.7h0.01M538.1,130.8h0.01M515.6,130.5h0.01M538.1,130.7h0.01M528.9,130.8h0.01M524.1,130.7h0.01M519.6,130.8h0.01M521.9,130.7h0.01M527.5,130.8h0.01M522.0,130.8h0.01M519.5,130.9h0.01M519.7,130.6h0.01M536.8,130.7h0.01M520.4,130.9h0.01M530.5,130.8h0.01M538.2,130.8h0.01M532.2,130.7h0.01M523.4,130.7h0.01M535.1,130.8h0.01M535.3,130.8h0.01M522.1,130.8h0.01M520.2,130.6h0.01M524.1,130.8h0.01M512.6,130.9h0.01M520.3,130.6h0.01M528.6,130.8h0.01M536.1,130.5h0.01M538.6,130.8h0.01M515.8,130.8h0.01M527.6,130.8h0.01M513.4,130.6h0.01M540.8,130.9h0.01M517.4,130.7h0.01M527.8,130.8h0.01M519.7,130.9h0.01M538.9,130.6h0.01M527.7,130.9h0.01M513.0,130.7h0.01M532.9,130.8h0.01M524.8,130.9h0.01M521.4,130.8h0.01M515.3,130.9h0.01M517.6,130.7h0.01M541.2,130.6h0.01M533.8,130.6h0.01M537.1,130.5h0.01M526.8,130.7h0.01M538.9,130.6h0.01M527.7,130.7h0.01M535.7,130.8h0.01M521.7,130.4h0.01M534.0,130.9h0.01M534.5,130.8h0.01M514.5,130.8h0.01M518.8,130.7h0.01M521.0,130.7h0.01M515.9,130.8h0.01M519.8,130.9h0.01M538.4,130.8h0.01M530.5,130.8h0.01M518.1,130.7h0.01M535.3,130.9h0.01M519.3,130.9h0.01M528.7,130.8h0.01M536.6,130.6h0.01M519.0,130.9h0.01M531.6,130.5h0.01M517.2,130.7h0.01M521.5,130.9h0.01M528.9,130.6h0.01M523.1,130.8h0.01M518.4,130.9h0.01M538.1,130.8h0.01M525.8,130.8h0.01M517.0,130.9h0.01M539.5,130.4h0.01M538.0,130.8h0.01M534.0,130.5h0.01M533.0,130.7h0.01M513.8,130.9h0.01M515.7,130.9h0.01M515.5,130.8h0.01M531.2,130.8h0.01M522.9,130.7h0.01M521.4,130.6h0.01M522.6,130.9h0.01M525.0,130.9h0.01M528.9,130.7h0.01M518.0,130.7h0.01M513.3,130.6h0.01M531.0,130.9h0.01M539.9,130.6h0.01M538.5,130.9h0.01M538.4,130.7h0.01M526.9,130.8h0.01M528.8,130.8h0.01M525.3,130.8h0.01M522.1,130.8h0.01M529.1,130.6h0.01M526.1,130.9h0.01M529.2,130.7h0.01M521.2,130.7h0.01M527.1,130.8h0.01M510.0,130.8h0.01M530.6,130.7h0.01M533.7,130.7h0.01M525.5,130.9h0.01M519.5,130.8h0.01M528.2,130.7h0.01M532.5,130.7h0.01M537.2,130.9h0.01M520.4,130.8h0.01M531.3,130.9h0.01M526.5,130.6h0.01M520.2,130.8h0.01M526.6,130.9h0.01M526.0,130.6h0.01M529.8,130.7h0.01M526.1,130.8h0.01M529.0,130.8h0.01M511.5,130.8h0.01M524.3,130.8h0.01M526.2,130.8h0.01M521.6,130.7h0.01M524.5,130.8h0.01M531.1,130.7h0.01M532.8,130.9h0.01M535.1,129.5h0.01M561.6,130.8h0.01" stroke="#969696" stroke-opacity="0.55" stroke-width="1.4" stroke-linecap="round" fill="none"/>
<path d="M535.2,130.8h0.01M526.0,130.7h0.01M546.5,130.7h0.01M522.3,130.7h0.01M522.2,130.7h0.01M555.3,130.9h0.01M529.2,130.8h0.01M511.1,130.8h0.01M524.5,130.6h0.01M535.4,130.7h0.01M539.2,130.8h0.01M499.8,130.9h0.01M510.8,130.8h0.01M533.0,130.7h0.01M541.9,130.8h0.01M512.9,130.7h0.01M498.8,130.8h0.01M528.8,130.8h0.01M503.8,130.7h0.01M534.7,130.8h0.01M503.6,130.6h0.01M554.5,130.9h0.01M504.0,130.6h0.01M545.5,130.7h0.01M502.8,130.7h0.01M513.8,130.8h0.01M539.7,130.8h0.01M526.5,130.7h0.01M538.1,130.7h0.01M526.3,130.8h0.01M522.2,130.8h0.01M528.6,130.7h0.01M528.5,130.8h0.01M522.9,130.8h0.01M519.6,130.8h0.01M533.0,130.6h0.01M515.1,130.8h0.01M535.8,130.7h0.01M522.2,130.7h0.01M534.9,130.8h0.01M524.0,130.7h0.01M520.1,130.7h0.01M512.3,130.7h0.01M522.3,130.8h0.01M529.2,130.8h0.01M522.6,130.7h0.01M540.8,130.8h0.01M517.5,130.7h0.01M536.3,130.9h0.01M535.3,130.7h0.01M524.0,130.8h0.01M519.7,130.9h0.01M516.5,130.8h0.01M533.9,130.7h0.01M521.1,130.7h0.01M538.9,130.9h0.01M516.7,130.6h0.01M532.0,130.8h0.01M540.1,130.7h0.01M531.1,130.5h0.01M525.1,130.7h0.01M524.5,130.8h0.01M528.5,130.6h0.01M517.6,130.8h0.01M522.5,130.9h0.01M536.2,130.8h0.01M513.0,130.9h0.01M524.3,130.9h0.01M522.4,130.8h0.01M540.7,130.7h0.01M516.5,130.8h0.01M535.7,130.8h0.01M540.7,130.7h0.01M523.9,130.9h0.01M523.0,130.6h0.01M538.2,130.8h0.01M524.9,130.6h0.01M531.7,130.6h0.01M522.6,130.7h0.01M529.9,130.9h0.01M532.5,130.8h0.01M522.4,130.9h0.01M515.8,130.6h0.01M524.3,130.9h0.01M522.2,130.7h0.01M533.8,130.7h0.01M515.8,130.8h0.01M520.0,130.8h0.01M538.6,130.8h0.01M531.3,130.8h0.01M524.3,130.7h0.01M536.0,130.9h0.01M514.2,130.8h0.01M536.4,130.6h0.01M520.3,130.8h0.01M522.4,130.8h0.01M534.7,130.9h0.01M527.9,130.9h0.01M532.8,130.8h0.01M525.2,130.9h0.01M526.7,130.8h0.01M535.3,130.7h0.01M529.5,130.8h0.01M538.9,130.8h0.01M524.3,130.8h0.01M516.6,130.9h0.01M539.0,130.8h0.01M527.1,130.8h0.01M514.3,130.6h0.01M525.5,130.9h0.01M518.7,130.7h0.01M527.9,130.9h0.01M540.3,130.6h0.01M529.9,130.8h0.01M528.6,130.5h0.01M519.5,130.9h0.01M540.9,130.8h0.01M525.8,130.7h0.01M538.4,130.5h0.01M522.8,130.8h0.01M538.9,130.8h0.01M526.0,130.7h0.01M529.7,130.8h0.01M525.7,130.8h0.01M515.3,130.6h0.01M537.4,130.8h0.01M526.2,130.8h0.01M528.0,130.8h0.01M521.2,130.8h0.01M526.3,130.9h0.01M517.6,130.7h0.01M531.8,130.8h0.01M534.9,130.7h0.01M523.2,130.8h0.01M529.8,130.6h0.01M522.5,130.5h0.01M516.4,130.7h0.01M517.7,130.8h0.01M524.2,130.8h0.01M526.9,130.8h0.01M529.0,130.8h0.01M536.5,130.9h0.01M522.6,130.8h0.01M530.5,130.9h0.01M527.0,130.7h0.01M530.2,130.8h0.01M524.1,130.8h0.01M522.4,130.8h0.01M522.2,130.9h0.01M528.4,130.8h0.01M521.3,130.8h0.01M533.6,130.6h0.01M526.6,130.9h0.01M534.9,130.7h0.01M517.7,130.8h0.01M526.6,130.9h0.01M523.7,130.7h0.01M527.5,130.6h0.01M525.1,130.8h0.01M526.0,130.8h0.01M540.2,129.0h0.01" stroke="#969696" stroke-opacity="0.55" stroke-width="1.4" stroke-linecap="round" fill="none"/>
<path d="M541.3,130.7h0.01M554.4,130.6h0.01M510.5,130.9h0.01M531.7,130.6h0.01M518.5,130.8h0.01M530.9,130.9h0.01M500.5,130.6h0.01M500.6,130.9h0.01M539.9,130.7h0.01M503.9,130.8h0.01M515.5,130.9h0.01M529.9,130.7h0.01M525.6,130.8h0.01M540.6,130.8h0.01M506.7,130.8h0.01M553.5,130.9h0.01M550.6,130.9h0.01M543.3,130.9h0.01M552.1,130.9h0.01M522.9,130.8h0.01M534.4,130.8h0.01M550.1,130.8h0.01M543.8,130.9h0.01M515.6,130.9h0.01M539.2,130.9h0.01M500.4,130.5h0.01M512.3,130.8h0.01M516.5,130.6h0.01M527.1,130.3h0.01M537.7,130.8h0.01M536.1,130.7h0.01M538.9,130.7h0.01M522.7,130.7h0.01M519.2,130.5h0.01M532.5,130.8h0.01M525.6,130.9h0.01M529.3,130.8h0.01M517.5,130.9h0.01M513.2,130.7h0.01M516.8,130.9h0.01M526.0,130.6h0.01M516.2,130.8h0.01M532.9,130.8h0.01M535.2,130.8h0.01M524.7,130.9h0.01M538.0,130.9h0.01M513.5,130.8h0.01M537.6,130.8h0.01M512.8,130.9h0.01M524.1,130.7h0.01M535.4,130.8h0.01M515.1,130.8h0.01M534.3,130.8h0.01M537.8,130.7h0.01M514.7,130.7h0.01M515.2,130.7h0.01M527.7,130.9h0.01M521.1,130.9h0.01M512.5,130.7h0.01M513.6,130.8h0.01M521.2,130.8h0.01M540.8,130.7h0.01M529.6,130.8h0.01M537.2,130.6h0.01M522.4,130.8h0.01M514.1,130.6h0.01M539.7,130.9h0.01M539.6,130.9h0.01M516.4,130.3h0.01M533.4,130.7h0.01M539.0,130.8h0.01M537.2,130.8h0.01M518.3,130.6h0.01M532.6,130.8h0.01M516.0,130.7h0.01M541.1,130.7h0.01M531.2,130.8h0.01M512.3,130.9h0.01M530.2,130.8h0.01M535.7,130.7h0.01M516.4,130.6h0.01M514.2,130.5h0.01M512.6,130.6h0.01M534.6,130.8h0.01M540.9,130.7h0.01M532.6,130.8h0.01M513.7,130.8h0.01M516.6,130.7h0.01M529.0,130.7h0.01M516.1,130.7h0.01M522.7,130.9h0.01M538.1,130.7h0.01M512.7,130.7h0.01M523.3,130.8h0.01M530.8,130.8h0.01M537.9,130.9h0.01M519.2,130.7h0.01M533.0,130.6h0.01M526.4,130.6h0.01M522.6,130.7h0.01M527.6,130.8h0.01M512.4,130.8h0.01M536.3,130.9h0.01M522.9,130.8h0.01M535.0,130.8h0.01M526.6,130.8h0.01M533.2,130.6h0.01M529.1,130.7h0.01M523.5,130.8h0.01M527.3,130.9h0.01M537.7,130.9h0.01M515.1,130.7h0.01M540.3,130.8h0.01M530.3,130.9h0.01M529.9,130.6h0.01M535.3,130.7h0.01M530.8,130.8h0.01M530.5,130.9h0.01M539.4,130.9h0.01M535.1,130.8h0.01M525.8,130.8h0.01M539.1,130.9h0.01M513.5,130.6h0.01M535.7,130.8h0.01M528.9,130.8h0.01M528.0,130.7h0.01M517.8,130.8h0.01M525.1,130.9h0.01M519.6,130.8h0.01M525.6,130.9h0.01M519.8,130.9h0.01M519.5,130.6h0.01M538.1,130.6h0.01M529.7,130.9h0.01M523.9,130.8h0.01M528.8,130.8h0.01M522.8,130.7h0.01M544.8,130.9h0.01M528.5,130.8h0.01M524.7,130.9h0.01M525.3,130.8h0.01M532.2,130.8h0.01M520.7,130.8h0.01M529.1,130.8h0.01M537.1,130.8h0.01M532.7,130.6h0.01M520.3,130.8h0.01M523.7,130.9h0.01M530.8,130.9h0.01M530.9,130.8h0.01M531.7,130.8h0.01M513.8,130.8h0.01M527.3,130.8h0.01M533.8,130.8h0.01M516.7,130.8h0.01M523.8,130.8h0.01M524.3,130.7h0.01M522.9,130.8h0.01M527.6,130.8h0.01M524.8,130.6h0.01M489.4,130.8h0.01" stroke="#969696" stroke-opacity="0.55" stroke-width="1.4" stroke-linecap="round" fill="none"/>
<line x1="483.00" y1="124.80" x2="571.20" y2="124.80" stroke="#6a6a6a" stroke-width="1.3" stroke-dasharray="2.7 2.6"/>
<text x="496.80" y="157.8" font-size="7.65" fill="#333">log<tspan font-size="5.4" dx="0.3" dy="2.2">2</tspan><tspan dx="0.5" dy="-2.2">(Fold change)</tspan></text>
<rect x="590.50" y="54.5" width="89.2" height="80.00" fill="none" stroke="#7a7a7a" stroke-width="1"/>
<line x1="594.32" y1="134.50" x2="594.32" y2="137.50" stroke="#666" stroke-width="0.9" />
<text x="594.32" y="145.80" font-size="6.5" text-anchor="middle" fill="#333" font-weight="normal" >−4</text>
<line x1="614.66" y1="134.50" x2="614.66" y2="137.50" stroke="#666" stroke-width="0.9" />
<text x="614.66" y="145.80" font-size="6.5" text-anchor="middle" fill="#333" font-weight="normal" >−2</text>
<line x1="635.00" y1="134.50" x2="635.00" y2="137.50" stroke="#666" stroke-width="0.9" />
<text x="635.00" y="145.80" font-size="6.5" text-anchor="middle" fill="#333" font-weight="normal" >0</text>
<line x1="655.34" y1="134.50" x2="655.34" y2="137.50" stroke="#666" stroke-width="0.9" />
<text x="655.34" y="145.80" font-size="6.5" text-anchor="middle" fill="#333" font-weight="normal" >2</text>
<line x1="675.68" y1="134.50" x2="675.68" y2="137.50" stroke="#666" stroke-width="0.9" />
<text x="675.68" y="145.80" font-size="6.5" text-anchor="middle" fill="#333" font-weight="normal" >4</text>
<line x1="588.00" y1="74.90" x2="590.50" y2="74.90" stroke="#666" stroke-width="0.9" />
<text x="584.90" y="77.80" font-size="6.5" text-anchor="end" fill="#333" font-weight="normal" >1.0</text>
<line x1="588.00" y1="102.90" x2="590.50" y2="102.90" stroke="#666" stroke-width="0.9" />
<text x="584.90" y="105.80" font-size="6.5" text-anchor="end" fill="#333" font-weight="normal" >0.5</text>
<line x1="588.00" y1="130.90" x2="590.50" y2="130.90" stroke="#666" stroke-width="0.9" />
<text x="584.90" y="133.80" font-size="6.5" text-anchor="end" fill="#333" font-weight="normal" >0</text>
<path d="M613.3,131.0h0.01M630.5,130.8h0.01M642.2,130.9h0.01M653.6,131.0h0.01M669.5,130.8h0.01M624.2,131.1h0.01M636.4,131.0h0.01M635.0,131.0h0.01M637.8,131.1h0.01M615.1,131.0h0.01M634.1,131.0h0.01M603.5,130.9h0.01M646.8,131.0h0.01M646.5,131.1h0.01M661.1,130.8h0.01M657.9,131.0h0.01M648.3,130.9h0.01M608.1,131.1h0.01M667.4,131.1h0.01M606.1,131.1h0.01M640.9,131.1h0.01M669.0,130.9h0.01M622.2,131.1h0.01M604.3,130.8h0.01M615.1,130.9h0.01M633.9,131.1h0.01M640.5,130.9h0.01M624.0,131.0h0.01M661.7,131.1h0.01M611.1,131.0h0.01M622.1,130.9h0.01M602.1,131.0h0.01M615.8,131.0h0.01M625.9,131.0h0.01M612.7,131.1h0.01M647.8,130.9h0.01M645.3,130.8h0.01M662.3,130.9h0.01M623.4,131.0h0.01M641.5,131.1h0.01M654.3,131.1h0.01M662.8,131.0h0.01M638.7,131.1h0.01M639.2,131.1h0.01M623.5,131.0h0.01M632.1,131.1h0.01M625.7,131.1h0.01M632.8,130.7h0.01M636.2,131.0h0.01M625.2,131.0h0.01M643.4,131.0h0.01M636.1,131.0h0.01M625.4,131.1h0.01M640.3,131.1h0.01M642.5,130.8h0.01M634.2,131.0h0.01M642.4,131.0h0.01M621.8,131.1h0.01M633.5,131.0h0.01M639.0,131.1h0.01M647.5,131.0h0.01M637.0,130.9h0.01M643.1,130.9h0.01M642.0,131.1h0.01M635.1,130.9h0.01M635.8,131.1h0.01M643.8,131.1h0.01M631.2,131.0h0.01M645.5,130.9h0.01M640.7,131.1h0.01M638.5,130.9h0.01M641.5,130.9h0.01M626.8,131.1h0.01M624.0,130.9h0.01M632.4,131.0h0.01M625.0,131.0h0.01M648.2,131.1h0.01M640.6,131.1h0.01M646.9,130.7h0.01M642.2,131.1h0.01M633.9,131.1h0.01M630.1,130.9h0.01M641.3,130.8h0.01M647.7,131.1h0.01M630.7,130.8h0.01M631.1,130.7h0.01M647.9,131.1h0.01M638.3,130.7h0.01M630.4,130.8h0.01M647.3,131.1h0.01M643.9,131.0h0.01M630.2,130.9h0.01M624.8,131.0h0.01M634.2,131.1h0.01M642.4,130.9h0.01M626.8,131.0h0.01M631.3,131.1h0.01M627.3,130.9h0.01M639.5,131.1h0.01M643.2,130.8h0.01M641.0,131.0h0.01M633.0,130.9h0.01M640.8,131.1h0.01M645.6,130.8h0.01M629.0,130.7h0.01M621.7,131.1h0.01M630.8,130.9h0.01M644.0,131.1h0.01M638.9,131.1h0.01M638.2,131.0h0.01M645.0,130.9h0.01M641.2,130.7h0.01M641.4,131.0h0.01M622.7,131.0h0.01M623.3,130.6h0.01M629.7,131.0h0.01M621.8,130.9h0.01M648.2,131.1h0.01M637.0,131.0h0.01M637.5,130.9h0.01M631.9,130.8h0.01M629.1,130.6h0.01M626.4,130.9h0.01M622.7,131.0h0.01M647.3,130.6h0.01M621.6,118.8h0.01M625.9,118.8h0.01M621.6,118.8h0.01M618.0,118.8h0.01M621.7,118.8h0.01M621.8,118.8h0.01M620.0,118.8h0.01M618.5,118.8h0.01M623.6,118.8h0.01M623.4,118.8h0.01M626.3,118.8h0.01M625.1,118.8h0.01M619.6,118.8h0.01M618.5,118.8h0.01M618.2,118.8h0.01M624.6,121.1h0.01M627.3,121.1h0.01M622.7,121.1h0.01M621.2,121.1h0.01M621.2,121.1h0.01M628.5,127.1h0.01M623.0,127.1h0.01M619.1,127.1h0.01M624.5,127.1h0.01M612.6,127.5h0.01" stroke="#969696" stroke-opacity="0.55" stroke-width="1.4" stroke-linecap="round" fill="none"/>
<path d="M603.0,131.1h0.01M615.2,131.1h0.01M611.6,131.0h0.01M618.4,131.0h0.01M624.9,131.1h0.01M604.5,131.0h0.01M610.7,131.1h0.01M644.0,131.1h0.01M650.0,131.0h0.01M663.0,130.9h0.01M646.8,131.0h0.01M658.8,131.1h0.01M627.3,130.9h0.01M598.9,130.7h0.01M617.0,131.0h0.01M616.4,130.9h0.01M622.9,131.0h0.01M662.6,130.9h0.01M620.8,131.0h0.01M641.6,131.1h0.01M662.7,131.1h0.01M670.1,131.1h0.01M604.9,131.1h0.01M601.7,131.0h0.01M632.8,131.0h0.01M652.9,131.0h0.01M640.2,130.9h0.01M633.9,131.0h0.01M656.4,131.1h0.01M625.1,131.0h0.01M600.1,131.0h0.01M618.8,130.7h0.01M601.2,131.1h0.01M656.6,130.9h0.01M618.6,131.0h0.01M612.6,130.9h0.01M635.6,131.1h0.01M631.3,131.1h0.01M606.6,131.0h0.01M612.1,130.9h0.01M599.3,131.0h0.01M666.2,131.1h0.01M620.4,131.1h0.01M631.6,130.9h0.01M635.4,130.7h0.01M647.9,130.9h0.01M625.2,130.9h0.01M644.2,130.7h0.01M647.4,131.1h0.01M645.4,130.8h0.01M621.5,131.0h0.01M625.9,131.1h0.01M647.7,131.0h0.01M636.6,130.9h0.01M634.1,130.7h0.01M623.3,131.1h0.01M629.7,131.1h0.01M633.8,131.1h0.01M647.1,131.0h0.01M646.8,130.9h0.01M642.7,131.1h0.01M626.6,130.8h0.01M632.5,130.9h0.01M629.5,130.8h0.01M635.0,131.1h0.01M634.9,131.1h0.01M638.2,130.8h0.01M635.0,131.1h0.01M630.6,130.9h0.01M631.8,130.9h0.01M625.2,130.9h0.01M646.5,130.9h0.01M639.6,131.1h0.01M626.6,131.0h0.01M630.5,131.0h0.01M645.5,131.0h0.01M637.6,131.0h0.01M647.7,130.7h0.01M635.2,131.1h0.01M639.1,131.0h0.01M640.9,131.1h0.01M632.4,131.1h0.01M632.1,130.8h0.01M637.8,130.6h0.01M642.2,130.8h0.01M647.9,130.8h0.01M642.4,130.8h0.01M632.8,131.0h0.01M641.0,131.1h0.01M637.5,130.7h0.01M629.0,131.1h0.01M639.0,131.1h0.01M631.8,131.0h0.01M631.4,131.0h0.01M625.6,130.9h0.01M628.8,130.9h0.01M625.8,131.0h0.01M637.0,130.6h0.01M633.4,131.1h0.01M627.4,130.8h0.01M637.7,131.1h0.01M633.3,130.9h0.01M644.8,131.1h0.01M645.4,131.0h0.01M630.2,130.8h0.01M645.4,130.8h0.01M639.6,131.1h0.01M631.9,130.8h0.01M639.5,130.9h0.01M628.9,131.0h0.01M641.2,131.1h0.01M632.8,130.5h0.01M639.5,130.9h0.01M630.7,131.1h0.01M637.9,131.0h0.01M644.9,130.9h0.01M622.6,130.9h0.01M636.2,131.0h0.01M623.7,131.0h0.01M648.1,130.8h0.01M624.6,131.1h0.01M647.0,130.6h0.01M634.9,131.0h0.01M629.5,131.0h0.01M631.5,130.7h0.01M646.0,118.8h0.01M642.4,118.8h0.01M644.1,118.8h0.01M644.9,118.8h0.01M650.1,118.8h0.01M650.6,118.8h0.01M646.1,118.8h0.01M652.5,118.8h0.01M652.3,118.8h0.01M650.7,118.8h0.01M643.3,118.8h0.01M642.7,118.8h0.01M644.6,118.8h0.01M651.3,118.8h0.01M644.1,118.8h0.01M646.5,121.1h0.01M641.9,121.1h0.01M642.0,121.1h0.01M642.3,121.1h0.01M644.3,121.1h0.01M647.4,127.1h0.01M644.3,127.1h0.01M644.5,127.1h0.01M644.3,127.1h0.01M629.9,125.3h0.01" stroke="#969696" stroke-opacity="0.55" stroke-width="1.4" stroke-linecap="round" fill="none"/>
<path d="M659.9,131.0h0.01M635.9,131.1h0.01M656.9,130.9h0.01M632.6,131.0h0.01M667.4,131.1h0.01M651.7,131.1h0.01M612.5,131.0h0.01M627.7,130.9h0.01M632.8,131.0h0.01M651.5,130.9h0.01M643.3,130.8h0.01M648.0,130.8h0.01M614.0,131.1h0.01M613.2,131.0h0.01M630.9,131.1h0.01M612.2,131.1h0.01M651.8,131.0h0.01M655.8,130.9h0.01M645.5,131.1h0.01M647.0,130.8h0.01M611.7,131.0h0.01M616.4,131.1h0.01M656.1,131.1h0.01M664.5,131.1h0.01M643.9,130.8h0.01M635.7,131.1h0.01M648.1,131.1h0.01M651.4,130.6h0.01M656.6,131.0h0.01M623.0,131.1h0.01M661.8,130.9h0.01M608.8,130.9h0.01M612.0,131.1h0.01M637.7,131.0h0.01M649.2,130.8h0.01M648.5,131.1h0.01M600.8,130.9h0.01M635.6,131.1h0.01M662.7,131.1h0.01M650.8,131.0h0.01M603.7,131.0h0.01M608.9,131.0h0.01M624.0,131.1h0.01M630.7,131.0h0.01M640.1,130.6h0.01M641.4,131.0h0.01M620.9,130.8h0.01M638.4,131.0h0.01M647.1,130.7h0.01M636.0,130.8h0.01M632.1,131.0h0.01M641.6,130.9h0.01M632.5,131.0h0.01M620.7,131.1h0.01M623.6,131.1h0.01M625.0,130.9h0.01M627.0,131.1h0.01M627.1,131.0h0.01M627.4,131.1h0.01M624.2,131.0h0.01M646.0,131.0h0.01M632.9,130.9h0.01M630.3,131.1h0.01M629.3,131.1h0.01M637.9,131.0h0.01M620.5,130.9h0.01M645.9,131.0h0.01M635.4,131.0h0.01M643.7,131.1h0.01M636.3,131.1h0.01M636.1,131.1h0.01M626.8,130.8h0.01M627.9,131.1h0.01M628.3,130.9h0.01M647.6,130.5h0.01M622.2,130.8h0.01M643.0,131.0h0.01M631.5,131.0h0.01M635.0,131.1h0.01M622.9,130.9h0.01M642.0,130.9h0.01M635.6,131.1h0.01M644.8,130.8h0.01M625.3,131.1h0.01M648.1,131.1h0.01M643.5,130.9h0.01M628.7,131.0h0.01M620.5,131.0h0.01M621.2,130.9h0.01M645.3,130.9h0.01M623.3,131.1h0.01M636.5,131.1h0.01M630.2,131.1h0.01M631.7,131.0h0.01M636.5,131.1h0.01M644.7,130.7h0.01M633.9,131.0h0.01M640.4,131.0h0.01M647.7,130.9h0.01M636.6,131.1h0.01M629.6,131.1h0.01M627.4,131.1h0.01M647.3,131.0h0.01M634.6,130.9h0.01M632.4,131.1h0.01M636.9,130.9h0.01M621.0,130.8h0.01M632.3,131.1h0.01M643.0,130.8h0.01M633.9,131.1h0.01M626.5,131.1h0.01M646.2,131.0h0.01M648.2,130.7h0.01M625.0,130.9h0.01M637.8,131.0h0.01M634.7,131.0h0.01M625.8,130.8h0.01M639.1,131.1h0.01M640.9,130.9h0.01M633.2,131.1h0.01M636.1,130.8h0.01M645.0,130.8h0.01M628.5,131.0h0.01M644.0,131.1h0.01M628.1,131.1h0.01M621.6,118.8h0.01M618.1,118.8h0.01M618.0,118.8h0.01M626.0,118.8h0.01M620.5,118.8h0.01M622.5,118.8h0.01M623.0,118.8h0.01M618.8,118.8h0.01M620.8,118.8h0.01M621.5,118.8h0.01M621.1,118.8h0.01M623.8,118.8h0.01M624.5,118.8h0.01M620.3,118.8h0.01M624.8,118.8h0.01M620.4,121.1h0.01M625.0,121.1h0.01M625.6,121.1h0.01M622.6,121.1h0.01M625.3,121.1h0.01M623.6,127.1h0.01M625.5,127.1h0.01M628.2,127.1h0.01M598.4,118.8h0.01M651.3,127.1h0.01" stroke="#969696" stroke-opacity="0.55" stroke-width="1.4" stroke-linecap="round" fill="none"/>
<path d="M635.7,131.0h0.01M645.2,130.9h0.01M602.9,131.0h0.01M636.7,131.1h0.01M612.9,130.8h0.01M634.0,130.8h0.01M642.7,131.0h0.01M650.5,131.0h0.01M652.5,130.9h0.01M617.8,131.1h0.01M603.6,131.0h0.01M632.0,130.9h0.01M617.2,130.9h0.01M632.1,131.0h0.01M667.0,130.9h0.01M649.7,131.0h0.01M639.0,131.0h0.01M621.2,130.6h0.01M662.1,131.1h0.01M602.9,131.0h0.01M606.5,130.9h0.01M634.7,131.0h0.01M661.9,130.8h0.01M652.8,131.1h0.01M648.3,131.1h0.01M613.8,130.9h0.01M662.0,130.8h0.01M625.2,131.0h0.01M628.4,131.0h0.01M611.2,131.0h0.01M619.6,131.1h0.01M641.1,130.7h0.01M611.0,130.9h0.01M656.0,131.1h0.01M609.6,131.1h0.01M599.1,130.9h0.01M637.9,131.0h0.01M652.1,131.1h0.01M646.3,131.1h0.01M646.5,131.1h0.01M628.6,131.0h0.01M614.2,130.9h0.01M642.9,131.0h0.01M648.2,131.0h0.01M637.2,131.1h0.01M643.0,131.1h0.01M644.8,130.7h0.01M642.0,131.1h0.01M639.1,130.9h0.01M645.4,130.8h0.01M635.5,130.4h0.01M646.0,130.9h0.01M622.0,131.0h0.01M630.2,130.9h0.01M626.6,130.9h0.01M644.8,131.0h0.01M629.0,131.1h0.01M640.8,131.0h0.01M625.7,130.9h0.01M641.2,130.7h0.01M622.1,130.7h0.01M623.8,131.0h0.01M642.1,131.0h0.01M641.5,131.1h0.01M640.4,131.0h0.01M621.4,130.7h0.01M623.6,131.0h0.01M636.2,131.1h0.01M627.9,131.1h0.01M622.9,130.8h0.01M639.5,130.8h0.01M638.5,130.7h0.01M646.3,131.1h0.01M639.1,131.1h0.01M632.1,131.0h0.01M637.6,130.8h0.01M647.3,131.0h0.01M632.1,130.9h0.01M630.3,130.4h0.01M643.5,131.1h0.01M630.8,131.0h0.01M646.2,130.7h0.01M640.5,131.1h0.01M641.8,130.9h0.01M628.2,130.6h0.01M630.5,130.9h0.01M641.7,131.0h0.01M630.3,131.0h0.01M643.8,130.8h0.01M637.0,130.8h0.01M627.8,130.6h0.01M640.5,131.1h0.01M644.8,130.8h0.01M639.3,130.9h0.01M641.9,130.9h0.01M642.4,130.9h0.01M621.8,131.0h0.01M634.1,131.1h0.01M644.7,131.0h0.01M620.8,131.0h0.01M624.9,131.0h0.01M622.9,131.0h0.01M622.7,130.9h0.01M644.0,131.0h0.01M623.3,131.0h0.01M628.3,131.0h0.01M639.5,131.1h0.01M625.4,130.8h0.01M637.8,131.1h0.01M634.4,130.9h0.01M638.5,130.9h0.01M637.3,130.7h0.01M638.7,130.7h0.01M633.1,131.0h0.01M635.7,131.0h0.01M632.3,131.0h0.01M629.2,131.0h0.01M624.0,131.1h0.01M642.2,131.1h0.01M635.1,131.1h0.01M641.1,131.0h0.01M642.1,131.0h0.01M621.7,130.8h0.01M624.1,130.9h0.01M629.5,130.7h0.01M650.2,118.8h0.01M653.0,118.8h0.01M646.6,118.8h0.01M650.6,118.8h0.01M645.7,118.8h0.01M642.0,118.8h0.01M645.8,118.8h0.01M648.2,118.8h0.01M642.1,118.8h0.01M645.3,118.8h0.01M649.9,118.8h0.01M645.4,118.8h0.01M650.1,118.8h0.01M650.2,118.8h0.01M647.0,118.8h0.01M643.3,121.1h0.01M642.6,121.1h0.01M644.5,121.1h0.01M643.1,121.1h0.01M642.5,121.1h0.01M641.7,127.1h0.01M641.4,127.1h0.01M643.2,127.1h0.01M599.9,118.8h0.01M591.8,118.8h0.01" stroke="#969696" stroke-opacity="0.55" stroke-width="1.4" stroke-linecap="round" fill="none"/>
<path d="M635.3,131.1h0.01M620.7,131.0h0.01M632.1,131.1h0.01M658.9,131.0h0.01M610.0,131.1h0.01M610.7,131.1h0.01M639.8,130.9h0.01M620.1,131.1h0.01M617.1,131.0h0.01M665.7,131.1h0.01M620.4,130.8h0.01M670.2,130.9h0.01M648.7,130.9h0.01M657.9,131.1h0.01M606.4,131.1h0.01M603.9,130.9h0.01M632.7,131.0h0.01M642.9,131.0h0.01M669.9,131.0h0.01M642.3,131.1h0.01M607.5,130.8h0.01M632.5,131.1h0.01M659.3,131.0h0.01M645.1,131.1h0.01M662.4,131.1h0.01M661.2,131.1h0.01M647.5,131.1h0.01M609.9,130.8h0.01M651.0,131.0h0.01M645.5,131.1h0.01M609.0,130.9h0.01M652.3,130.9h0.01M619.0,131.0h0.01M605.5,131.1h0.01M632.1,131.1h0.01M624.5,130.8h0.01M626.8,131.0h0.01M610.5,131.0h0.01M652.8,130.9h0.01M653.8,130.9h0.01M604.0,130.8h0.01M646.5,131.0h0.01M635.0,131.0h0.01M622.4,131.1h0.01M635.0,130.9h0.01M640.2,130.9h0.01M646.8,130.8h0.01M634.9,131.0h0.01M633.4,131.0h0.01M632.9,130.9h0.01M630.3,131.0h0.01M635.6,130.9h0.01M626.4,131.0h0.01M648.1,131.1h0.01M633.0,131.1h0.01M633.7,131.1h0.01M639.1,131.0h0.01M628.3,131.1h0.01M634.8,130.9h0.01M639.0,130.9h0.01M638.8,130.9h0.01M627.7,131.1h0.01M640.2,131.0h0.01M645.8,131.0h0.01M644.3,130.9h0.01M622.3,131.0h0.01M646.0,130.9h0.01M637.2,130.9h0.01M638.5,130.9h0.01M633.1,131.1h0.01M637.7,131.1h0.01M632.8,131.1h0.01M636.5,130.9h0.01M621.1,131.1h0.01M637.4,131.0h0.01M642.5,131.1h0.01M648.1,131.0h0.01M641.4,130.6h0.01M628.9,131.1h0.01M636.0,130.9h0.01M645.4,130.9h0.01M636.3,130.9h0.01M634.7,130.9h0.01M636.0,130.9h0.01M635.0,131.1h0.01M629.9,131.0h0.01M634.3,131.0h0.01M635.5,131.1h0.01M639.5,131.0h0.01M631.8,131.1h0.01M625.1,131.0h0.01M639.0,131.1h0.01M638.1,130.9h0.01M632.4,131.1h0.01M625.6,131.0h0.01M626.0,131.0h0.01M642.7,130.9h0.01M635.8,131.1h0.01M636.7,130.9h0.01M624.8,130.9h0.01M621.1,131.0h0.01M631.5,131.1h0.01M633.8,130.8h0.01M621.2,131.0h0.01M646.8,131.0h0.01M647.8,130.9h0.01M623.0,131.0h0.01M644.4,131.0h0.01M646.7,131.0h0.01M645.2,131.1h0.01M630.0,130.9h0.01M621.6,130.9h0.01M633.5,131.1h0.01M623.1,130.9h0.01M633.6,131.0h0.01M643.8,131.1h0.01M634.9,131.0h0.01M621.9,131.1h0.01M633.2,131.0h0.01M637.0,131.0h0.01M639.6,131.1h0.01M636.7,130.9h0.01M631.4,131.0h0.01M639.1,131.0h0.01M623.1,131.1h0.01M622.0,118.8h0.01M619.7,118.8h0.01M623.4,118.8h0.01M620.3,118.8h0.01M622.5,118.8h0.01M621.1,118.8h0.01M619.6,118.8h0.01M622.9,118.8h0.01M619.7,118.8h0.01M624.2,118.8h0.01M626.2,118.8h0.01M624.3,118.8h0.01M626.3,118.8h0.01M622.4,118.8h0.01M626.0,118.8h0.01M624.6,121.1h0.01M623.4,121.1h0.01M621.0,121.1h0.01M624.2,121.1h0.01M623.2,121.1h0.01M622.1,127.1h0.01M625.6,127.1h0.01M624.2,127.1h0.01M600.4,121.1h0.01M591.8,121.1h0.01" stroke="#969696" stroke-opacity="0.55" stroke-width="1.4" stroke-linecap="round" fill="none"/>
<path d="M611.0,131.0h0.01M652.2,130.8h0.01M661.4,130.9h0.01M610.0,131.0h0.01M652.7,131.0h0.01M664.6,131.0h0.01M658.1,130.8h0.01M652.7,130.9h0.01M640.9,131.1h0.01M643.9,131.0h0.01M649.8,130.9h0.01M667.6,130.9h0.01M648.1,130.9h0.01M600.8,131.0h0.01M598.7,131.1h0.01M658.5,131.1h0.01M599.4,130.9h0.01M626.3,131.0h0.01M650.6,130.8h0.01M627.0,130.9h0.01M624.4,130.8h0.01M647.6,131.1h0.01M645.4,131.0h0.01M608.9,131.0h0.01M654.7,130.9h0.01M650.3,131.1h0.01M607.0,131.1h0.01M643.8,131.0h0.01M663.0,130.9h0.01M628.1,131.1h0.01M668.2,131.0h0.01M657.1,131.1h0.01M668.5,131.1h0.01M650.6,130.8h0.01M617.0,131.1h0.01M635.9,130.9h0.01M614.4,131.0h0.01M667.8,130.9h0.01M608.1,130.9h0.01M644.6,131.1h0.01M635.2,131.1h0.01M635.9,130.9h0.01M635.0,131.0h0.01M635.7,130.7h0.01M630.9,131.0h0.01M625.9,131.1h0.01M637.5,130.8h0.01M637.3,131.1h0.01M623.8,131.0h0.01M627.1,130.9h0.01M647.0,130.9h0.01M624.0,131.0h0.01M638.1,131.1h0.01M629.8,130.9h0.01M647.0,130.9h0.01M648.1,131.0h0.01M645.1,130.7h0.01M622.2,130.8h0.01M641.9,130.9h0.01M647.1,130.9h0.01M646.8,130.8h0.01M644.8,130.9h0.01M626.4,130.8h0.01M632.5,131.1h0.01M620.8,131.1h0.01M638.6,130.8h0.01M642.4,130.8h0.01M640.9,130.9h0.01M624.7,130.9h0.01M621.2,131.1h0.01M622.7,131.0h0.01M633.0,130.9h0.01M630.7,130.5h0.01M623.5,131.1h0.01M645.0,131.0h0.01M629.3,130.8h0.01M632.3,130.9h0.01M640.0,130.9h0.01M646.3,130.9h0.01M642.8,130.9h0.01M646.6,131.1h0.01M648.2,131.1h0.01M630.5,130.9h0.01M641.0,131.0h0.01M638.4,130.9h0.01M631.8,131.1h0.01M626.5,131.1h0.01M629.4,131.1h0.01M635.6,131.1h0.01M636.3,131.1h0.01M628.4,130.9h0.01M622.2,130.8h0.01M636.6,130.8h0.01M631.6,131.1h0.01M638.4,131.1h0.01M633.2,131.0h0.01M640.5,131.1h0.01M641.9,131.0h0.01M632.9,131.0h0.01M644.2,130.8h0.01M624.2,131.0h0.01M625.0,131.0h0.01M645.2,130.9h0.01M626.0,130.8h0.01M632.1,130.9h0.01M635.9,130.6h0.01M622.2,131.0h0.01M645.2,131.1h0.01M638.9,131.0h0.01M640.5,130.6h0.01M631.2,130.9h0.01M623.6,131.0h0.01M643.3,130.8h0.01M640.6,131.0h0.01M643.7,131.0h0.01M633.0,131.1h0.01M641.3,130.7h0.01M648.1,130.9h0.01M645.9,131.0h0.01M629.2,131.1h0.01M642.8,131.1h0.01M642.8,130.7h0.01M642.6,130.8h0.01M644.6,130.8h0.01M645.2,131.0h0.01M650.2,118.8h0.01M651.4,118.8h0.01M642.0,118.8h0.01M646.3,118.8h0.01M644.2,118.8h0.01M648.4,118.8h0.01M652.2,118.8h0.01M646.4,118.8h0.01M652.2,118.8h0.01M648.4,118.8h0.01M647.1,118.8h0.01M645.0,118.8h0.01M646.4,118.8h0.01M646.8,118.8h0.01M651.3,118.8h0.01M641.4,121.1h0.01M643.7,121.1h0.01M646.4,121.1h0.01M646.1,121.1h0.01M643.5,121.1h0.01M647.7,127.1h0.01M646.7,127.1h0.01M643.9,127.1h0.01M667.5,127.1h0.01" stroke="#969696" stroke-opacity="0.55" stroke-width="1.4" stroke-linecap="round" fill="none"/>
<line x1="591.00" y1="58.10" x2="679.20" y2="58.10" stroke="#6a6a6a" stroke-width="1.3" stroke-dasharray="2.7 2.6"/>
<text x="604.80" y="157.8" font-size="7.65" fill="#333">log<tspan font-size="5.4" dx="0.3" dy="2.2">2</tspan><tspan dx="0.5" dy="-2.2">(Fold change)</tspan></text>
<text x="288.70" y="60.30" font-size="5.1" text-anchor="start" fill="#35a683" font-weight="normal" >UGUGUG</text>
<text x="279.30" y="66.40" font-size="5.1" text-anchor="start" fill="#35a683" font-weight="normal" >GUGUGU</text>
<text x="283.00" y="72.20" font-size="5.1" text-anchor="start" fill="#35a683" font-weight="normal" >GCUGCU</text>
<text x="276.00" y="79.60" font-size="5.1" text-anchor="start" fill="#35a683" font-weight="normal" >GGUGUG</text>
<text x="276.00" y="89.70" font-size="5.1" text-anchor="start" fill="#35a683" font-weight="normal" >GGCCUU</text>
<text x="276.00" y="96.70" font-size="5.1" text-anchor="start" fill="#35a683" font-weight="normal" >GUUCCU</text>
<text x="327.00" y="65.60" font-size="5.1" text-anchor="start" fill="#55307a" font-weight="normal" >AAUAUU</text>
<text x="313.00" y="75.80" font-size="5.1" text-anchor="start" fill="#55307a" font-weight="normal" >AUAUAU</text>
<text x="338.50" y="70.80" font-size="5.1" text-anchor="start" fill="#55307a" font-weight="normal" >UAUUCU</text>
<text x="338.50" y="77.80" font-size="5.1" text-anchor="start" fill="#55307a" font-weight="normal" >CAAUAA</text>
<text x="338.50" y="85.50" font-size="5.1" text-anchor="start" fill="#55307a" font-weight="normal" >UAAUAU</text>
<text x="338.50" y="93.30" font-size="5.1" text-anchor="start" fill="#55307a" font-weight="normal" >UACCUA</text>
<line x1="310.20" y1="61.50" x2="310.20" y2="66.20" stroke="#35a683" stroke-width="0.5" />
<line x1="305.60" y1="66.30" x2="308.60" y2="66.30" stroke="#35a683" stroke-width="0.5" />
<line x1="304.90" y1="70.50" x2="303.30" y2="79.20" stroke="#35a683" stroke-width="0.5" />
<line x1="298.60" y1="80.20" x2="300.50" y2="80.70" stroke="#35a683" stroke-width="0.5" />
<line x1="295.40" y1="83.60" x2="301.90" y2="83.60" stroke="#35a683" stroke-width="0.5" />
<line x1="301.50" y1="86.40" x2="301.50" y2="92.60" stroke="#35a683" stroke-width="0.5" />
<line x1="328.60" y1="76.50" x2="327.00" y2="83.60" stroke="#55307a" stroke-width="0.5" />
<line x1="338.50" y1="71.50" x2="331.30" y2="86.00" stroke="#55307a" stroke-width="0.5" />
<line x1="339.00" y1="78.50" x2="332.00" y2="92.80" stroke="#55307a" stroke-width="0.5" />
<line x1="338.50" y1="78.00" x2="335.80" y2="84.00" stroke="#55307a" stroke-width="0.5" />
<line x1="338.50" y1="85.50" x2="328.50" y2="90.80" stroke="#55307a" stroke-width="0.5" />
<line x1="338.50" y1="92.00" x2="337.30" y2="92.50" stroke="#55307a" stroke-width="0.5" />
<ellipse cx="309.4" cy="67.05" rx="1.6" ry="1.05" fill="#1c9a70"/>
<circle cx="309.3" cy="67.1" r="0.9" fill="#35a683"/>
<circle cx="300.7" cy="80.7" r="0.9" fill="#35a683"/>
<circle cx="303.2" cy="79.9" r="0.9" fill="#35a683"/>
<circle cx="304.8" cy="81.9" r="0.9" fill="#35a683"/>
<circle cx="300.3" cy="84" r="0.9" fill="#35a683"/>
<circle cx="302.3" cy="83.6" r="0.9" fill="#35a683"/>
<circle cx="306.9" cy="84" r="0.9" fill="#35a683"/>
<circle cx="304.4" cy="89.3" r="0.9" fill="#35a683"/>
<circle cx="328" cy="69" r="0.9" fill="#55307a"/>
<circle cx="327" cy="83.9" r="0.9" fill="#55307a"/>
<circle cx="331.1" cy="86.3" r="0.9" fill="#55307a"/>
<circle cx="336" cy="84.3" r="0.9" fill="#55307a"/>
<circle cx="326.2" cy="90" r="0.9" fill="#55307a"/>
<circle cx="328.2" cy="90.8" r="0.9" fill="#55307a"/>
<circle cx="329.9" cy="94.5" r="0.9" fill="#55307a"/>
<circle cx="331.9" cy="93.7" r="0.9" fill="#55307a"/>
<circle cx="334.8" cy="94.1" r="0.9" fill="#55307a"/>
<circle cx="337.3" cy="92.5" r="0.9" fill="#55307a"/>
<circle cx="434" cy="64.3" r="0.9" fill="#55307a"/>
<circle cx="430.4" cy="93.3" r="0.9" fill="#55307a"/>
<circle cx="540.5" cy="60.3" r="0.9" fill="#55307a"/>
<circle cx="539.9" cy="64.4" r="0.9" fill="#55307a"/>
<text x="437.00" y="66.10" font-size="5.65" text-anchor="start" fill="#55307a" font-weight="normal" >UAUAUA</text>
<text x="433.70" y="91.20" font-size="5.65" text-anchor="start" fill="#55307a" font-weight="normal" >AUAUAU</text>
<text x="543.10" y="63.20" font-size="5.65" text-anchor="start" fill="#55307a" font-weight="normal" >GUGUGU</text>
<text x="539.40" y="70.60" font-size="5.65" text-anchor="start" fill="#55307a" font-weight="normal" >UGUGUG</text>
<text font-size="7.65" fill="#333" text-anchor="middle" transform="translate(257.0,94.6) rotate(-90)">-log<tspan font-size="5.4" dx="0.3" dy="2.2">10</tspan><tspan dx="0.4" dy="-2.2">(</tspan><tspan font-style="italic">P</tspan> adjusted)</text>
<line x1="33.50" y1="200.50" x2="33.50" y2="332.00" stroke="#9a9a9a" stroke-width="1" />
<line x1="29.50" y1="206.20" x2="33.50" y2="206.20" stroke="#666" stroke-width="0.9" />
<text x="26.10" y="208.50" font-size="6.5" text-anchor="end" fill="#333" font-weight="normal" >1.00</text>
<line x1="29.50" y1="236.00" x2="33.50" y2="236.00" stroke="#666" stroke-width="0.9" />
<text x="26.10" y="238.30" font-size="6.5" text-anchor="end" fill="#333" font-weight="normal" >0.75</text>
<line x1="29.50" y1="265.80" x2="33.50" y2="265.80" stroke="#666" stroke-width="0.9" />
<text x="26.10" y="268.10" font-size="6.5" text-anchor="end" fill="#333" font-weight="normal" >0.50</text>
<line x1="29.50" y1="295.60" x2="33.50" y2="295.60" stroke="#666" stroke-width="0.9" />
<text x="26.10" y="297.90" font-size="6.5" text-anchor="end" fill="#333" font-weight="normal" >0.25</text>
<line x1="29.50" y1="325.40" x2="33.50" y2="325.40" stroke="#666" stroke-width="0.9" />
<text x="26.10" y="327.70" font-size="6.5" text-anchor="end" fill="#333" font-weight="normal" >0</text>
<line x1="33.00" y1="331.50" x2="158.00" y2="331.50" stroke="#9a9a9a" stroke-width="1" />
<line x1="56.04" y1="331.50" x2="56.04" y2="334.50" stroke="#666" stroke-width="0.9" />
<text x="56.04" y="343.20" font-size="6.5" text-anchor="middle" fill="#333" font-weight="normal" >0.2</text>
<line x1="90.28" y1="331.50" x2="90.28" y2="334.50" stroke="#666" stroke-width="0.9" />
<text x="90.28" y="343.20" font-size="6.5" text-anchor="middle" fill="#333" font-weight="normal" >0.4</text>
<line x1="124.52" y1="331.50" x2="124.52" y2="334.50" stroke="#666" stroke-width="0.9" />
<text x="124.52" y="343.20" font-size="6.5" text-anchor="middle" fill="#333" font-weight="normal" >0.6</text>
<polyline points="33.70,325.40 39.20,325.40 40.20,312.50 44.30,285.80 49.10,259.20 52.40,247.70 57.30,235.40 63.10,225.50 69.70,220.60 77.10,214.80 83.70,210.70 89.40,209.00 101.30,207.70 115.70,206.80 158.00,206.40" fill="none" stroke="#bfbfbf" stroke-width="1.0" stroke-linejoin="round" />
<polyline points="33.70,325.40 39.20,325.40 41.20,308.40 44.30,292.00 48.40,275.50 52.50,263.20 53.20,259.20 57.30,247.70 62.30,234.50 66.40,226.30 71.30,222.20 76.30,216.40 82.00,211.50 88.60,207.70 94.30,207.40 106.50,206.80 158.00,206.40" fill="none" stroke="#6e56a6" stroke-width="1.0" stroke-linejoin="round" />
<text x="55.50" y="306.00" font-size="6.15" text-anchor="start" fill="#333" font-weight="normal" >GU content</text>
<line x1="56.00" y1="312.30" x2="63.70" y2="312.30" stroke="#6e56a6" stroke-width="1.3" />
<text x="67.00" y="314.20" font-size="6.15" text-anchor="start" fill="#333" font-weight="normal" >Low (bottom 20%)</text>
<line x1="56.00" y1="321.60" x2="63.70" y2="321.60" stroke="#d4d4d4" stroke-width="1.5" />
<text x="67.00" y="323.70" font-size="6.15" text-anchor="start" fill="#333" font-weight="normal" >High (top 20%)</text>
<path d="M120.6,312 H121.5 V323.5 H120.6" fill="none" stroke="#333" stroke-width="0.8"/>
<text x="123.70" y="318.60" font-size="6.6" text-anchor="start" fill="#333" font-weight="normal" >0.003167</text>
<text x="95.40" y="354.90" font-size="7.65" text-anchor="middle" fill="#333" font-weight="normal" >Absolute delta usage change</text>
<text x="95.60" y="363.60" font-size="7.0" text-anchor="middle" fill="#333" font-weight="normal" >|ΔdPUR|</text>
<text x="0.00" y="0.00" font-size="7.9" text-anchor="middle" fill="#333" font-weight="normal" transform="translate(7.3,264.9) rotate(-90)">Cumulative fraction</text>
<line x1="244.50" y1="205.10" x2="244.50" y2="331.80" stroke="#9a9a9a" stroke-width="1" />
<line x1="241.50" y1="210.00" x2="244.50" y2="210.00" stroke="#666" stroke-width="0.9" />
<text x="238.10" y="212.30" font-size="6.5" text-anchor="end" fill="#333" font-weight="normal" >1.0</text>
<line x1="241.50" y1="238.88" x2="244.50" y2="238.88" stroke="#666" stroke-width="0.9" />
<line x1="241.50" y1="267.75" x2="244.50" y2="267.75" stroke="#666" stroke-width="0.9" />
<text x="238.10" y="270.05" font-size="6.5" text-anchor="end" fill="#333" font-weight="normal" >0.5</text>
<line x1="241.50" y1="296.62" x2="244.50" y2="296.62" stroke="#666" stroke-width="0.9" />
<line x1="241.50" y1="325.50" x2="244.50" y2="325.50" stroke="#666" stroke-width="0.9" />
<text x="238.10" y="327.80" font-size="6.5" text-anchor="end" fill="#333" font-weight="normal" >0</text>
<line x1="244.00" y1="331.30" x2="363.20" y2="331.30" stroke="#9a9a9a" stroke-width="1" />
<line x1="272.50" y1="331.30" x2="272.50" y2="334.30" stroke="#666" stroke-width="0.9" />
<text x="272.50" y="343.00" font-size="6.5" text-anchor="middle" fill="#333" font-weight="normal" >−10</text>
<line x1="302.15" y1="331.30" x2="302.15" y2="334.30" stroke="#666" stroke-width="0.9" />
<text x="302.15" y="343.00" font-size="6.5" text-anchor="middle" fill="#333" font-weight="normal" >−5</text>
<line x1="331.80" y1="331.30" x2="331.80" y2="334.30" stroke="#666" stroke-width="0.9" />
<text x="331.80" y="343.00" font-size="6.5" text-anchor="middle" fill="#333" font-weight="normal" >0</text>
<line x1="361.45" y1="331.30" x2="361.45" y2="334.30" stroke="#666" stroke-width="0.9" />
<text x="361.45" y="343.00" font-size="6.5" text-anchor="middle" fill="#333" font-weight="normal" >5</text>
<path d="M244.50,325.50 C249.18,325.43 265.35,325.58 272.60,325.10 C279.85,324.62 283.20,324.13 288.00,322.60 C292.80,321.07 297.88,318.47 301.40,315.90 C304.92,313.33 306.70,311.20 309.10,307.20 C311.50,303.20 313.88,297.02 315.80,291.90 C317.72,286.78 319.25,280.98 320.60,276.50 C321.95,272.02 323.02,268.47 323.90,265.00 C324.78,261.53 324.77,260.45 325.90,255.70 C327.03,250.95 328.78,242.42 330.70,236.50 C332.62,230.58 335.32,224.05 337.40,220.20 C339.48,216.35 340.80,215.00 343.20,213.40 C345.60,211.80 348.45,211.13 351.80,210.60 C355.15,210.07 361.38,210.27 363.30,210.20" fill="none" stroke="#f08d85" stroke-width="1.1"/>
<path d="M244.50,325.50 C249.18,325.50 264.40,325.67 272.60,325.50 C280.80,325.33 288.58,324.98 293.70,324.50 C298.82,324.02 300.42,324.20 303.30,322.60 C306.18,321.00 308.43,318.75 311.00,314.90 C313.57,311.05 316.45,304.93 318.70,299.50 C320.95,294.07 322.73,288.05 324.50,282.30 C326.27,276.55 328.10,269.43 329.30,265.00 C330.50,260.57 330.50,260.13 331.70,255.70 C332.90,251.27 334.75,244.00 336.50,238.40 C338.25,232.80 340.13,226.27 342.20,222.10 C344.27,217.93 346.65,215.32 348.90,213.40 C351.15,211.48 353.30,211.13 355.70,210.60 C358.10,210.07 362.03,210.27 363.30,210.20" fill="none" stroke="#2bb9c4" stroke-width="1.1"/>
<text x="248.60" y="212.00" font-size="6.15" text-anchor="start" fill="#333" font-weight="normal" >Usage change</text>
<text x="248.60" y="218.80" font-size="6.15" text-anchor="start" fill="#333" font-weight="normal" >upon TDP-43 KD</text>
<line x1="248.00" y1="225.20" x2="255.20" y2="225.20" stroke="#f08d85" stroke-width="1.1" />
<text x="258.50" y="227.40" font-size="6.15" text-anchor="start" fill="#333" font-weight="normal" >Down</text>
<line x1="248.00" y1="234.00" x2="255.20" y2="234.00" stroke="#2bb9c4" stroke-width="1.1" />
<text x="258.50" y="236.20" font-size="6.15" text-anchor="start" fill="#333" font-weight="normal" >Up</text>
<path d="M276.7,224.6 H277.6 V235.5 H276.7" fill="none" stroke="#333" stroke-width="0.8"/>
<text x="280.00" y="231.40" font-size="6.6" text-anchor="start" fill="#333" font-weight="normal" >&lt;0.0001</text>
<text x="304.6" y="354.6" font-size="7.65" fill="#333" text-anchor="middle">PolyA site score (log<tspan font-size="5.4" dx="0.3" dy="2.2">2</tspan><tspan dx="0.3" dy="-2.2"> odds ratio)</tspan></text>
<text x="0.00" y="0.00" font-size="7.9" text-anchor="middle" fill="#333" font-weight="normal" transform="translate(221.6,267.9) rotate(-90)">Cumulative fraction</text>
<text x="565.70" y="190.20" font-size="7.65" text-anchor="middle" fill="#333" font-weight="normal" >Significant APA change upon TDP-43 KD</text>
<line x1="459.00" y1="194.50" x2="672.80" y2="194.50" stroke="#aaa" stroke-width="1.0" />
<text x="514.20" y="202.80" font-size="7.65" text-anchor="middle" fill="#333" font-weight="normal" >Shortening</text>
<text x="623.00" y="202.80" font-size="7.65" text-anchor="middle" fill="#333" font-weight="normal" >Lengthening</text>
<line x1="459.50" y1="206.20" x2="459.50" y2="331.80" stroke="#9a9a9a" stroke-width="1" />
<line x1="456.50" y1="212.50" x2="459.50" y2="212.50" stroke="#666" stroke-width="0.9" />
<text x="453.10" y="214.80" font-size="6.5" text-anchor="end" fill="#333" font-weight="normal" >1.00</text>
<line x1="456.50" y1="240.72" x2="459.50" y2="240.72" stroke="#666" stroke-width="0.9" />
<text x="453.10" y="243.02" font-size="6.5" text-anchor="end" fill="#333" font-weight="normal" >0.75</text>
<line x1="456.50" y1="268.95" x2="459.50" y2="268.95" stroke="#666" stroke-width="0.9" />
<text x="453.10" y="271.25" font-size="6.5" text-anchor="end" fill="#333" font-weight="normal" >0.50</text>
<line x1="456.50" y1="297.17" x2="459.50" y2="297.17" stroke="#666" stroke-width="0.9" />
<text x="453.10" y="299.47" font-size="6.5" text-anchor="end" fill="#333" font-weight="normal" >0.25</text>
<line x1="456.50" y1="325.40" x2="459.50" y2="325.40" stroke="#666" stroke-width="0.9" />
<text x="453.10" y="327.70" font-size="6.5" text-anchor="end" fill="#333" font-weight="normal" >0</text>
<line x1="459.00" y1="331.30" x2="564.00" y2="331.30" stroke="#9a9a9a" stroke-width="1" />
<line x1="464.50" y1="331.30" x2="464.50" y2="334.30" stroke="#666" stroke-width="0.9" />
<text x="464.50" y="343.40" font-size="6.5" text-anchor="middle" fill="#333" font-weight="normal" >−10</text>
<line x1="496.05" y1="331.30" x2="496.05" y2="334.30" stroke="#666" stroke-width="0.9" />
<text x="496.05" y="343.40" font-size="6.5" text-anchor="middle" fill="#333" font-weight="normal" >−5</text>
<line x1="527.60" y1="331.30" x2="527.60" y2="334.30" stroke="#666" stroke-width="0.9" />
<text x="527.60" y="343.40" font-size="6.5" text-anchor="middle" fill="#333" font-weight="normal" >0</text>
<line x1="559.15" y1="331.30" x2="559.15" y2="334.30" stroke="#666" stroke-width="0.9" />
<text x="559.15" y="343.40" font-size="6.5" text-anchor="middle" fill="#333" font-weight="normal" >5</text>
<polyline points="459.50,325.50 478.20,325.50 488.80,323.50 495.50,320.70 499.30,315.90 505.10,306.30 509.90,293.80 514.70,280.40 519.50,265.00 520.90,260.70 523.60,249.40 526.70,238.30 530.40,227.80 534.10,221.00 538.50,214.90 543.40,212.40 547.10,212.10 564.10,212.10" fill="none" stroke="#4289cc" stroke-width="1.1" stroke-linejoin="round" />
<polyline points="459.50,325.50 479.20,324.90 490.70,323.20 496.50,318.70 500.30,313.00 508.00,305.30 512.80,291.90 517.60,278.40 521.40,265.00 522.80,260.70 525.50,249.40 529.20,237.10 533.50,226.60 537.20,222.30 541.50,218.00 544.00,214.30 548.30,212.40 554.50,212.10 564.10,212.10" fill="none" stroke="#e03a52" stroke-width="1.1" stroke-linejoin="round" />
<text x="462.60" y="220.00" font-size="6.15" text-anchor="start" fill="#333" font-weight="normal" >PolyA site</text>
<line x1="462.90" y1="227.60" x2="470.00" y2="227.60" stroke="#4289cc" stroke-width="1.1" />
<text x="472.30" y="229.20" font-size="6.15" text-anchor="start" fill="#333" font-weight="normal" >Proximal</text>
<line x1="462.90" y1="235.00" x2="470.00" y2="235.00" stroke="#e03a52" stroke-width="1.1" />
<text x="472.30" y="237.60" font-size="6.15" text-anchor="start" fill="#333" font-weight="normal" >Distal</text>
<path d="M498.6,226.9 H499.5 V235.5 H498.6" fill="none" stroke="#333" stroke-width="0.8"/>
<text x="501.00" y="233.40" font-size="6.6" text-anchor="start" fill="#333" font-weight="normal" >0.05562</text>
<line x1="568.50" y1="206.20" x2="568.50" y2="331.80" stroke="#9a9a9a" stroke-width="1" />
<line x1="568.00" y1="331.30" x2="672.80" y2="331.30" stroke="#9a9a9a" stroke-width="1" />
<line x1="573.10" y1="331.30" x2="573.10" y2="334.30" stroke="#666" stroke-width="0.9" />
<text x="573.10" y="343.40" font-size="6.5" text-anchor="middle" fill="#333" font-weight="normal" >−10</text>
<line x1="604.75" y1="331.30" x2="604.75" y2="334.30" stroke="#666" stroke-width="0.9" />
<text x="604.75" y="343.40" font-size="6.5" text-anchor="middle" fill="#333" font-weight="normal" >−5</text>
<line x1="636.40" y1="331.30" x2="636.40" y2="334.30" stroke="#666" stroke-width="0.9" />
<text x="636.40" y="343.40" font-size="6.5" text-anchor="middle" fill="#333" font-weight="normal" >0</text>
<line x1="668.05" y1="331.30" x2="668.05" y2="334.30" stroke="#666" stroke-width="0.9" />
<text x="668.05" y="343.40" font-size="6.5" text-anchor="middle" fill="#333" font-weight="normal" >5</text>
<path d="M568.50,325.50 C571.12,325.40 579.98,325.32 584.20,324.90 C588.42,324.48 590.60,324.18 593.80,323.00 C597.00,321.82 600.52,320.12 603.40,317.80 C606.28,315.48 608.70,312.47 611.10,309.10 C613.50,305.73 615.88,301.75 617.80,297.60 C619.72,293.45 621.00,289.63 622.60,284.20 C624.20,278.77 626.17,269.57 627.40,265.00 C628.63,260.43 628.62,261.20 630.00,256.80 C631.38,252.40 633.78,244.03 635.70,238.60 C637.62,233.17 639.58,227.95 641.50,224.20 C643.42,220.45 644.97,218.02 647.20,216.10 C649.43,214.18 650.58,213.33 654.90,212.70 C659.22,212.07 670.07,212.37 673.10,212.30" fill="none" stroke="#4289cc" stroke-width="1.1"/>
<path d="M568.50,325.50 C572.72,325.43 587.67,325.52 593.80,325.10 C599.93,324.68 602.42,323.73 605.30,323.00 C608.18,322.27 609.18,322.22 611.10,320.70 C613.02,319.18 614.88,316.78 616.80,313.90 C618.72,311.02 620.68,307.72 622.60,303.40 C624.52,299.08 626.38,294.08 628.30,288.00 C630.22,281.92 632.70,271.78 634.10,266.90 C635.50,262.02 635.47,263.10 636.70,258.70 C637.93,254.30 639.75,245.93 641.50,240.50 C643.25,235.07 645.28,229.93 647.20,226.10 C649.12,222.27 650.75,219.67 653.00,217.50 C655.25,215.33 657.35,213.97 660.70,213.10 C664.05,212.23 671.03,212.43 673.10,212.30" fill="none" stroke="#e03a52" stroke-width="1.1"/>
<text x="571.80" y="220.00" font-size="6.15" text-anchor="start" fill="#333" font-weight="normal" >PolyA site</text>
<line x1="571.80" y1="227.40" x2="578.80" y2="227.40" stroke="#4289cc" stroke-width="1.1" />
<text x="580.40" y="229.20" font-size="6.15" text-anchor="start" fill="#333" font-weight="normal" >Proximal</text>
<line x1="571.80" y1="235.60" x2="578.80" y2="235.60" stroke="#e03a52" stroke-width="1.1" />
<text x="580.40" y="237.60" font-size="6.15" text-anchor="start" fill="#333" font-weight="normal" >Distal</text>
<path d="M607.5,226.3 H608.4 V236.8 H607.5" fill="none" stroke="#333" stroke-width="0.8"/>
<text x="610.70" y="233.40" font-size="6.6" text-anchor="start" fill="#333" font-weight="normal" >&lt;0.0001</text>
<text x="567.5" y="354.7" font-size="7.65" fill="#333" text-anchor="middle">PolyA site score (log<tspan font-size="5.4" dx="0.3" dy="2.2">2</tspan><tspan dx="0.3" dy="-2.2"> odds ratio)</tspan></text>
<text x="0.00" y="0.00" font-size="7.9" text-anchor="middle" fill="#333" font-weight="normal" transform="translate(434.0,268.6) rotate(-90)">Cumulative fraction</text>
</svg></body></html>
